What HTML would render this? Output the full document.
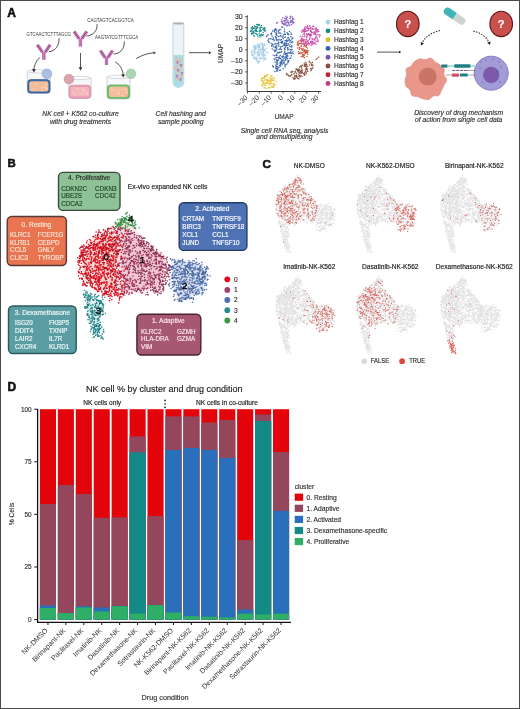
<!DOCTYPE html>
<html><head><meta charset="utf-8"><style>
html,body{margin:0;padding:0;background:#fff;}
svg{display:block;font-family:"Liberation Sans", sans-serif;will-change:transform;}
</style></head><body>
<svg width="520" height="709" viewBox="0 0 520 709" font-family="Liberation Sans, sans-serif">
<rect width="520" height="709" fill="#fff"/>
<text x="7.2" y="16.6" font-size="12.0" fill="#111" text-anchor="start" font-weight="bold" stroke="#111" stroke-width="0.55">A</text>
<text x="0" y="0" font-size="19.4" fill="#3a3a3a" textLength="178.0" lengthAdjust="spacingAndGlyphs" transform="translate(26.5 36.3) scale(0.25)">GTCAACTCTTTAGCG</text>
<text x="0" y="0" font-size="19.4" fill="#3a3a3a" textLength="186.0" lengthAdjust="spacingAndGlyphs" transform="translate(87.2 21.7) scale(0.25)">CAGTAGTCACGGTCA</text>
<text x="0" y="0" font-size="19.4" fill="#3a3a3a" textLength="172.8" lengthAdjust="spacingAndGlyphs" transform="translate(95 39.0) scale(0.25)">AAGTATCGTTTCGCA</text>
<g transform="translate(35.8 43.4) scale(1.0)" fill="none" stroke-linecap="butt" stroke-linejoin="round"><path d="M5.94 9.15L0.94 1.85M7.26 8.25L2.26 0.95M8.74 8.25L13.74 0.95M10.06 9.15L15.06 1.85M7.1 16.4V8.5M8.9 16.4V8.5" stroke="#963a88" stroke-width="1.55"/><path d="M5.94 9.15L0.94 1.85M7.26 8.25L2.26 0.95M8.74 8.25L13.74 0.95M10.06 9.15L15.06 1.85M7.1 16.4V8.5M8.9 16.4V8.5" stroke="#f0bce8" stroke-width="0.55"/></g>
<g transform="translate(72.4 30.0) scale(1.0)" fill="none" stroke-linecap="butt" stroke-linejoin="round"><path d="M5.94 9.15L0.94 1.85M7.26 8.25L2.26 0.95M8.74 8.25L13.74 0.95M10.06 9.15L15.06 1.85M7.1 16.4V8.5M8.9 16.4V8.5" stroke="#963a88" stroke-width="1.55"/><path d="M5.94 9.15L0.94 1.85M7.26 8.25L2.26 0.95M8.74 8.25L13.74 0.95M10.06 9.15L15.06 1.85M7.1 16.4V8.5M8.9 16.4V8.5" stroke="#f0bce8" stroke-width="0.55"/></g>
<g transform="translate(98.8 49.2) scale(0.96)" fill="none" stroke-linecap="butt" stroke-linejoin="round"><path d="M5.94 9.15L0.94 1.85M7.26 8.25L2.26 0.95M8.74 8.25L13.74 0.95M10.06 9.15L15.06 1.85M7.1 16.4V8.5M8.9 16.4V8.5" stroke="#963a88" stroke-width="1.55"/><path d="M5.94 9.15L0.94 1.85M7.26 8.25L2.26 0.95M8.74 8.25L13.74 0.95M10.06 9.15L15.06 1.85M7.1 16.4V8.5M8.9 16.4V8.5" stroke="#f0bce8" stroke-width="0.55"/></g>
<path d="M48.8 51.6C55 51.6 59.6 45.5 59 38.2" stroke="#2a2a2a" stroke-width="0.8" fill="none"/>
<path d="M86.4 36C93 35.5 97.6 31 97 24.2" stroke="#2a2a2a" stroke-width="0.8" fill="none"/>
<path d="M113.6 54C120 54 124.8 48.5 124.3 41.4" stroke="#2a2a2a" stroke-width="0.8" fill="none"/>
<path d="M27.3 71.4V91.3Q27.3 93.3 30.3 93.3H47.4Q50.4 93.3 50.4 91.3V71.4" fill="#f5f7f9" stroke="#c4cad1" stroke-width="0.8"/>
<ellipse cx="38.85" cy="71.4" rx="11.549999999999999" ry="1.6" fill="#fafbfc" stroke="#c4cad1" stroke-width="0.7"/>
<rect x="27.7" y="79.6" width="22.299999999999997" height="13.500000000000004" rx="3.2" fill="#3d6ba8" stroke="#2d5a96" stroke-width="0.7"/>
<rect x="29.3" y="81.3" width="19.099999999999998" height="10.100000000000003" rx="2.2" fill="#f3bd9b"/>
<circle cx="33.9" cy="89.3" r="0.75" fill="#fff" opacity="0.5"/>
<circle cx="46.0" cy="84.5" r="0.75" fill="#fff" opacity="0.5"/>
<circle cx="46.7" cy="89.0" r="0.75" fill="#fff" opacity="0.5"/>
<circle cx="35.9" cy="83.9" r="0.75" fill="#fff" opacity="0.5"/>
<circle cx="45.8" cy="88.0" r="0.75" fill="#fff" opacity="0.5"/>
<circle cx="42.0" cy="90.5" r="0.75" fill="#fff" opacity="0.5"/>
<circle cx="44.8" cy="87.1" r="0.75" fill="#fff" opacity="0.5"/>
<circle cx="41.8" cy="87.8" r="0.75" fill="#fff" opacity="0.5"/>
<circle cx="30.6" cy="83.5" r="0.75" fill="#fff" opacity="0.5"/>
<circle cx="46.9" cy="73.8" r="4.9" fill="#a9c0e0" stroke="#8ea8d0" stroke-width="0.6"/>
<path d="M68.7 78.0V96.4Q68.7 98.4 71.7 98.4H88.1Q91.1 98.4 91.1 96.4V78.0" fill="#f5f7f9" stroke="#c4cad1" stroke-width="0.8"/>
<ellipse cx="79.9" cy="78.0" rx="11.199999999999996" ry="1.6" fill="#fafbfc" stroke="#c4cad1" stroke-width="0.7"/>
<rect x="69.10000000000001" y="85.2" width="21.59999999999999" height="13.000000000000004" rx="3.2" fill="#e79db4" stroke="#d888a4" stroke-width="0.7"/>
<rect x="70.7" y="86.9" width="18.39999999999999" height="9.600000000000003" rx="2.2" fill="#f4b6b6"/>
<circle cx="73.3" cy="93.1" r="0.75" fill="#fff" opacity="0.5"/>
<circle cx="87.5" cy="93.5" r="0.75" fill="#fff" opacity="0.5"/>
<circle cx="78.0" cy="89.0" r="0.75" fill="#fff" opacity="0.5"/>
<circle cx="84.1" cy="90.3" r="0.75" fill="#fff" opacity="0.5"/>
<circle cx="82.3" cy="88.3" r="0.75" fill="#fff" opacity="0.5"/>
<circle cx="83.6" cy="90.0" r="0.75" fill="#fff" opacity="0.5"/>
<circle cx="85.8" cy="92.6" r="0.75" fill="#fff" opacity="0.5"/>
<circle cx="75.5" cy="94.8" r="0.75" fill="#fff" opacity="0.5"/>
<circle cx="81.7" cy="93.7" r="0.75" fill="#fff" opacity="0.5"/>
<circle cx="68.9" cy="79.1" r="4.9" fill="#d9a4ac" stroke="#c48c96" stroke-width="0.6"/>
<path d="M107 76.8V96.8Q107 98.8 110 98.8H127Q130 98.8 130 96.8V76.8" fill="#f5f7f9" stroke="#c4cad1" stroke-width="0.8"/>
<ellipse cx="118.5" cy="76.8" rx="11.5" ry="1.6" fill="#fafbfc" stroke="#c4cad1" stroke-width="0.7"/>
<rect x="107.4" y="84.9" width="22.2" height="13.699999999999992" rx="3.2" fill="#6fc16f" stroke="#5aae5a" stroke-width="0.7"/>
<rect x="109.0" y="86.60000000000001" width="19.0" height="10.299999999999992" rx="2.2" fill="#f3bd9b"/>
<circle cx="126.4" cy="91.9" r="0.75" fill="#fff" opacity="0.5"/>
<circle cx="122.2" cy="95.4" r="0.75" fill="#fff" opacity="0.5"/>
<circle cx="114.5" cy="90.6" r="0.75" fill="#fff" opacity="0.5"/>
<circle cx="125.2" cy="89.3" r="0.75" fill="#fff" opacity="0.5"/>
<circle cx="119.3" cy="94.1" r="0.75" fill="#fff" opacity="0.5"/>
<circle cx="122.0" cy="89.6" r="0.75" fill="#fff" opacity="0.5"/>
<circle cx="118.6" cy="91.8" r="0.75" fill="#fff" opacity="0.5"/>
<circle cx="117.7" cy="93.2" r="0.75" fill="#fff" opacity="0.5"/>
<circle cx="111.6" cy="89.5" r="0.75" fill="#fff" opacity="0.5"/>
<circle cx="131" cy="73.8" r="4.8" fill="#a9d7b2" stroke="#8cc39a" stroke-width="0.6"/>
<path d="M39.8 57.4C36.2 61 34.2 65.5 33.9 69.0" stroke="#2a2a2a" stroke-width="0.8" fill="none"/>
<path d="M33.80 72.40L32.10 69.04L35.73 69.17Z" fill="#222"/>
<path d="M80.5 53V67.5" stroke="#2a2a2a" stroke-width="0.8" fill="none"/>
<path d="M80.50 70.60L78.69 67.30L82.31 67.30Z" fill="#222"/>
<path d="M115.3 62.2C119.5 64 122.5 69 123.1 74.2" stroke="#2a2a2a" stroke-width="0.8" fill="none"/>
<path d="M123.30 77.60L121.20 74.47L124.82 74.15Z" fill="#222"/>
<text x="80.5" y="115.9" font-size="6.75" fill="#333" text-anchor="middle" font-style="italic" stroke="#333" stroke-width="0.16" >NK cell + K562 co-culture</text>
<text x="80.5" y="123.5" font-size="6.75" fill="#333" text-anchor="middle" font-style="italic" stroke="#333" stroke-width="0.16" >with drug treatments</text>
<text x="180.7" y="115.9" font-size="6.75" fill="#333" text-anchor="middle" font-style="italic" stroke="#333" stroke-width="0.16" >Cell hashing and</text>
<text x="180.7" y="123.5" font-size="6.75" fill="#333" text-anchor="middle" font-style="italic" stroke="#333" stroke-width="0.16" >sample pooling</text>
<text x="284.6" y="132.7" font-size="6.75" fill="#333" text-anchor="middle" font-style="italic" stroke="#333" stroke-width="0.16" >Single cell RNA seq, analysis</text>
<text x="284.4" y="139.4" font-size="6.75" fill="#333" text-anchor="middle" font-style="italic" stroke="#333" stroke-width="0.16" >and demultiplexing</text>
<text x="458.6" y="115.3" font-size="6.75" fill="#333" text-anchor="middle" font-style="italic" stroke="#333" stroke-width="0.16" >Discovery of drug mechanism</text>
<text x="458.6" y="122.3" font-size="6.75" fill="#333" text-anchor="middle" font-style="italic" stroke="#333" stroke-width="0.16" >of action from single cell data</text>
<path d="M136.2 58.6C141.5 55.5 147 53.4 153 52.9" stroke="#2a2a2a" stroke-width="0.8" fill="none"/>
<path d="M156.00 52.70L153.48 54.26L153.33 51.41Z" fill="#222"/>
<path d="M189 52.7H208.5" stroke="#2a2a2a" stroke-width="0.8" fill="none"/>
<path d="M211.40 52.70L208.80 54.13L208.80 51.27Z" fill="#222"/>
<path d="M377 52.1H398.5" stroke="#2a2a2a" stroke-width="0.8" fill="none"/>
<path d="M401.40 52.10L398.80 53.53L398.80 50.67Z" fill="#222"/>
<path d="M172.9 23.5V82.5A5.5 5.5 0 0 0 183.8 82.5V23.5" fill="#eef3f7" stroke="#b9cad8" stroke-width="0.8"/>
<path d="M173.4 55V82.5A4.95 4.95 0 0 0 183.3 82.5V55Z" fill="#a9dde6"/>
<ellipse cx="176" cy="58.5" rx="1.8" ry="1.6" fill="#f2b4a4" opacity="0.9"/>
<ellipse cx="180.5" cy="60" rx="2" ry="1.8" fill="#f2b4a4" opacity="0.9"/>
<ellipse cx="177.5" cy="63" rx="2.2" ry="1.7" fill="#f2b4a4" opacity="0.9"/>
<ellipse cx="181" cy="66" rx="1.8" ry="2" fill="#f2b4a4" opacity="0.9"/>
<ellipse cx="176" cy="68" rx="1.9" ry="2.2" fill="#f2b4a4" opacity="0.9"/>
<ellipse cx="179.5" cy="71" rx="2.3" ry="1.8" fill="#f2b4a4" opacity="0.9"/>
<ellipse cx="176.8" cy="75" rx="2" ry="1.8" fill="#f2b4a4" opacity="0.9"/>
<ellipse cx="181.2" cy="76" rx="1.7" ry="1.9" fill="#f2b4a4" opacity="0.9"/>
<ellipse cx="178.5" cy="79.5" rx="2.2" ry="1.6" fill="#f2b4a4" opacity="0.9"/>
<path d="M176.5 61l1 1.5l1 -1.5M177.5 62.5v1.5" stroke="#7a5ab0" stroke-width="0.7" fill="none"/>
<path d="M180 64l1 1.5l1 -1.5M181 65.5v1.5" stroke="#7a5ab0" stroke-width="0.7" fill="none"/>
<path d="M177 69l1 1.5l1 -1.5M178 70.5v1.5" stroke="#7a5ab0" stroke-width="0.7" fill="none"/>
<path d="M181 72l1 1.5l1 -1.5M182 73.5v1.5" stroke="#7a5ab0" stroke-width="0.7" fill="none"/>
<path d="M176 75l1 1.5l1 -1.5M177 76.5v1.5" stroke="#7a5ab0" stroke-width="0.7" fill="none"/>
<path d="M179.5 78l1 1.5l1 -1.5M180.5 79.5v1.5" stroke="#7a5ab0" stroke-width="0.7" fill="none"/>
<ellipse cx="178.35" cy="23.4" rx="5.6" ry="1.1" fill="#a9b3bc"/>
<path d="M247.2 15.3V91.5H321" stroke="#222" stroke-width="0.9" fill="none"/>
<path d="M245 16.65H247.2" stroke="#222" stroke-width="0.7"/>
<text x="242.6" y="19.05" font-size="6.9" fill="#333" text-anchor="end" stroke="#333" stroke-width="0.16" >30</text>
<path d="M318.55 91.5V93.6" stroke="#222" stroke-width="0.7"/>
<text x="0" y="0" font-size="6.9" fill="#333" text-anchor="end" transform="translate(318.95 98.0) rotate(-45)">30</text>
<path d="M245 27.70H247.2" stroke="#222" stroke-width="0.7"/>
<text x="242.6" y="30.10" font-size="6.9" fill="#333" text-anchor="end" stroke="#333" stroke-width="0.16" >20</text>
<path d="M306.70 91.5V93.6" stroke="#222" stroke-width="0.7"/>
<text x="0" y="0" font-size="6.9" fill="#333" text-anchor="end" transform="translate(307.10 98.0) rotate(-45)">20</text>
<path d="M245 38.75H247.2" stroke="#222" stroke-width="0.7"/>
<text x="242.6" y="41.15" font-size="6.9" fill="#333" text-anchor="end" stroke="#333" stroke-width="0.16" >10</text>
<path d="M294.85 91.5V93.6" stroke="#222" stroke-width="0.7"/>
<text x="0" y="0" font-size="6.9" fill="#333" text-anchor="end" transform="translate(295.25 98.0) rotate(-45)">10</text>
<path d="M245 49.80H247.2" stroke="#222" stroke-width="0.7"/>
<text x="242.6" y="52.20" font-size="6.9" fill="#333" text-anchor="end" stroke="#333" stroke-width="0.16" >0</text>
<path d="M283.00 91.5V93.6" stroke="#222" stroke-width="0.7"/>
<text x="0" y="0" font-size="6.9" fill="#333" text-anchor="end" transform="translate(283.40 98.0) rotate(-45)">0</text>
<path d="M245 60.85H247.2" stroke="#222" stroke-width="0.7"/>
<text x="242.6" y="63.25" font-size="6.9" fill="#333" text-anchor="end" stroke="#333" stroke-width="0.16" >&#8211;10</text>
<path d="M271.15 91.5V93.6" stroke="#222" stroke-width="0.7"/>
<text x="0" y="0" font-size="6.9" fill="#333" text-anchor="end" transform="translate(271.55 98.0) rotate(-45)">&#8211;10</text>
<path d="M245 71.90H247.2" stroke="#222" stroke-width="0.7"/>
<text x="242.6" y="74.30" font-size="6.9" fill="#333" text-anchor="end" stroke="#333" stroke-width="0.16" >&#8211;20</text>
<path d="M259.30 91.5V93.6" stroke="#222" stroke-width="0.7"/>
<text x="0" y="0" font-size="6.9" fill="#333" text-anchor="end" transform="translate(259.70 98.0) rotate(-45)">&#8211;20</text>
<path d="M245 82.95H247.2" stroke="#222" stroke-width="0.7"/>
<text x="242.6" y="85.35" font-size="6.9" fill="#333" text-anchor="end" stroke="#333" stroke-width="0.16" >&#8211;30</text>
<path d="M247.45 91.5V93.6" stroke="#222" stroke-width="0.7"/>
<text x="0" y="0" font-size="6.9" fill="#333" text-anchor="end" transform="translate(247.85 98.0) rotate(-45)">&#8211;30</text>
<text x="0" y="0" font-size="8.1" fill="#333" stroke="#333" stroke-width="0.15" text-anchor="middle" transform="translate(223.4 53.5) rotate(-90) scale(0.82 1)">UMAP</text>
<text x="0" y="0" font-size="8.1" fill="#333" stroke="#333" stroke-width="0.15" text-anchor="middle" transform="translate(284 118.7) scale(0.82 1)">UMAP</text>
<path transform="scale(0.1)" d="M2647 447h0m-3-5h0m-2 16h0m0-4h0m-14-20h0m-2 16h0m-6 2h0m-2-15h0m-12-4h0m-11 21h0m-2-6h0m-5 11h0m-5 1h0m-1-1h0m-1-12h0m-6-16h0m-3 24h0m-24-2h0m-15 8h0m3 35h0m1-34h0m3 33h0m1-17h0m5 9h0m4-20h0m3 11h0m3 15h0m1 0h0m3-23h0m1 13h0m5-6h0m16 20h0m2-28h0m1 12h0m0-11h0m1-6h0m11 11h0m3-11h0m5 25h0m8 5h0m1-3h0m6 2h0m2 0h0m1-19h0m6 10h0m1-23h0m0 17h0m4-4h0m2 15h0m0 5h0m1-34h0m3 37h0m1-7h0m21-10h0m1 3h0m14 44h0m-1 2h0m-16-5h0m-8-21h0m-11 8h0m-3 6h0m-1-13h0m0 35h0m-2-3h0m-3-33h0m0 22h0m-11-10h0m-3 18h0m-3-9h0m-12-11h0m-3 27h0m-5-38h0m-5 32h0m0-10h0m-3-7h0m-12 17h0m-1-12h0m-4-1h0m-18 7h0m-3-21h0m-3 9h0m-3-2h0m-2 11h0m-17-4h0m-5-13h0m-2 12h0m-1 22h0m2 4h0m4-3h0m3 13h0m2-12h0m1 1h0m2 7h0m9 26h0m4-8h0m1-1h0m0-26h0m14 36h0m9 0h0m6-19h0m8-12h0m10 10h0m5-10h0m5 23h0m18-30h0m5 14h0m6 8h0m0 6h0m4-21h0m8-1h0m8 5h0m3 20h0m2-16h0m3 37h0m-11 0h0m-9-12h0m-1 18h0m-18-14h0m-5-3h0m-10-1h0m-5 10h0m-1-8h0m-2 34h0m-5-5h0m-1 2h0m-6 0h0m-1 4h0m-6-5h0m-1-23h0m-12 17h0m-1-18h0m-15-2h0m-9-2h0m40 47h0m3-8h0" stroke="#9fcbe6" stroke-width="14.5" stroke-linecap="round" fill="none" opacity="1" />
<path transform="scale(0.1)" d="M2545 260h0m22-15h0m10-1h0m3 6h0m10-6h0m3 11h0m1-8h0m19 9h0m3-2h0m34 41h0m-1-7h0m-3-12h0m-2 3h0m-2-2h0m-2 5h0m-8 9h0m-2-2h0m-12-14h0m-12-3h0m-3 21h0m-3-4h0m-2-6h0m-19-7h0m-8-11h0m-2 20h0m-1-15h0m-2 1h0m-10-5h0m0 24h0m-4-20h0m-7 11h0m-11 2h0m-2 0h0m-4-5h0m-1-10h0m-4 26h0m-2-12h0m-6-4h0m-5 3h0m-6 34h0m4-8h0m6 31h0m2-30h0m1-1h0m2 33h0m1-5h0m2-4h0m0-9h0m4 13h0m4-19h0m6 13h0m3-17h0m0 13h0m12-23h0m2 33h0m6-21h0m3-6h0m1 6h0m1-14h0m11 16h0m15 20h0m3-30h0m2 12h0m6-10h0m8 3h0m1 1h0m1-7h0m21 20h0m5-25h0m8 4h0m3 6h0m5 0h0m-23 34h0m0 11h0m-3-3h0m-5-1h0m-1-5h0m-7-5h0m-2 4h0m-3 21h0m-1-13h0m-11-1h0m-3 0h0m0 19h0m-16-5h0m-4-18h0m-5 0h0m-2-8h0m-25 22h0m-4-10h0" stroke="#1a8d87" stroke-width="14.5" stroke-linecap="round" fill="none" opacity="1" />
<path transform="scale(0.1)" d="M2741 775h0m-19-12h0m-7-3h0m-12 2h0m-26-16h0m-8-1h0m-2 15h0m-2 8h0m-6-2h0m-3-6h0m-3-1h0m-6 11h0m-2 0h0m-1-13h0m0 19h0m-14 0h0m-16 29h0m1-21h0m0 7h0m7 15h0m2 11h0m0-33h0m11-2h0m3 24h0m10-24h0m1 18h0m11-5h0m1 16h0m11 1h0m3-13h0m2-1h0m1-3h0m1-1h0m2 12h0m7 1h0m1 1h0m3-2h0m1 9h0m3-30h0m11 15h0m1 13h0m3-30h0m2 19h0m0-10h0m2 15h0m5-22h0m4 1h0m1 16h0m3 4h0m12-18h0m2 16h0m1-16h0m19 26h0m-9 27h0m-6 2h0m-7 11h0m-6-20h0m-5 12h0m-17-5h0m-1-9h0m-3-8h0m-3 6h0m-8 19h0m-2-13h0m-13 0h0m-1-3h0m-1 2h0m-3-11h0m-8 3h0m-10 9h0m0 18h0m0-23h0m-9 20h0m-6-3h0m-1-19h0m-2 14h0m-5-10h0m-2-12h0m-11 26h0m-1-5h0m-2 8h0m8 13h0m15 12h0m7 6h0m5 0h0m4 3h0m25-1h0m2-8h0m2 4h0m13-4h0m3-1h0m13-6h0m11 5h0m4-10h0m7 7h0" stroke="#e8c43a" stroke-width="14.5" stroke-linecap="round" fill="none" opacity="1" />
<path transform="scale(0.1)" d="M2845 290h0m-19-18h0m-9-3h0m-9 27h0m-14 3h0m0-2h0m-26 2h0m-11-12h0m-4 6h0m-8 5h0m-33 36h0m1 1h0m3-6h0m10-19h0m16-3h0m0 10h0m2 1h0m15 9h0m1-24h0m4 17h0m2 15h0m17-17h0m4-10h0m1 21h0m7 1h0m12 3h0m36-22h0m4 9h0m23 6h0m2 4h0m4 4h0m9 6h0m10-25h0m15 15h0m19 50h0m-8-1h0m-7-36h0m-6 22h0m-20-21h0m-2 34h0m-7-34h0m-4 35h0m-21-34h0m0 25h0m-6 2h0m-2-29h0m-10 3h0m-4 15h0m-8 11h0m-5-11h0m-15-7h0m-4 10h0m-17 0h0m-13-8h0m-5-8h0m0 1h0m-2 27h0m-4-32h0m-2 24h0m-1-1h0m-25 10h0m-9-17h0m-10-15h0m-1-5h0m-30 8h0m-10 8h0m-5 9h0m14 41h0m6-10h0m0 21h0m4-30h0m18 1h0m3-2h0m12 10h0m11-5h0m5 6h0m3 10h0m16-26h0m6 16h0m0 5h0m2-6h0m0-15h0m1 18h0m14 3h0m1-7h0m1 24h0m15-21h0m4 5h0m12-8h0m2 19h0m11-3h0m7-27h0m16 22h0m4 0h0m10 9h0m1-9h0m1-3h0m1-3h0m4 1h0m2 9h0m10-4h0m6-15h0m7 3h0m3 14h0m2 0h0m7-1h0m9-16h0m6-10h0m0 4h0m3 32h0m-5 9h0m-5 31h0m-2-34h0m-12 20h0m-6-22h0m-13 15h0m-1 3h0m-3 13h0m-10 1h0m-3-20h0m-3 3h0m-3 24h0m-1-10h0m-1-1h0m-2 7h0m-6-23h0m-1 23h0m-2-1h0m0-28h0m-2 19h0m-6-7h0m-5 12h0m-7-27h0m-8 8h0m-8-7h0m-12 1h0m-11 21h0m-5-12h0m-14 1h0m-1 16h0m-16-15h0m-2-3h0m-11 14h0m-14-6h0m-1 0h0m-5 13h0m-8-20h0m-18-11h0m24 39h0m5 26h0m11-21h0m16 3h0m0 28h0m4-26h0m2 5h0m1-17h0m8 14h0m0 4h0m1 12h0m2-22h0m2 23h0m19-29h0m4 32h0m9-4h0m3-9h0m2-12h0m6-4h0m3 28h0m13-32h0m0 1h0m14 18h0m6 12h0m2-1h0m5-18h0m21 2h0m0 9h0m2-7h0m2 3h0m4 15h0m11-35h0m6 33h0m2 4h0m4-30h0m4 28h0m9-26h0m1 24h0m11 43h0m-2-20h0m-11 11h0m-4-27h0m-1 34h0m-9-18h0m-4 15h0m-10-4h0m-7 0h0m-7 2h0m-2-29h0m-7 36h0m-11-4h0m-6-1h0m-3-20h0m-3 7h0m-8 21h0m-20-24h0m-4 1h0m-3 5h0m-14 6h0m-3-7h0m-5 5h0m-10-1h0m-1 3h0m-9 11h0m-6-29h0m-6-1h0m-10 5h0m-8-13h0m-6 50h0m15 6h0m11 23h0m4-28h0m7 23h0m1-17h0m14 19h0m9-5h0m1-2h0m9-16h0m15 12h0m5 9h0m1-14h0m0 7h0m8-6h0m9 11h0m12-30h0m2 18h0m4 13h0m6 2h0m1-14h0m1-18h0m0 21h0m0 12h0m5-27h0m7 9h0m28 18h0m6-20h0m-14 29h0m-10 18h0m-3 14h0m-9-8h0m0-25h0m-8 3h0m-11 6h0m-1-3h0m-3 12h0m-8-22h0m-5 35h0m-2-9h0m-6-18h0m-8 14h0m-5 14h0m-3-7h0m-6-16h0m-6-11h0m-7-2h0m-7 5h0m-4 15h0m-6 1h0m-4 5h0m-3 5h0m-5-14h0m-3 10h0m-17-14h0m-7-5h0m-17 69h0m26-38h0m5 31h0m7-23h0m6 15h0m1 0h0m1 4h0m7-17h0m17 25h0m6-29h0m0 8h0m1-10h0m1 12h0m1 11h0m2 12h0m1-39h0m8 10h0m3 8h0m4 9h0m10-18h0m9 4h0m0-11h0m8 25h0m4 10h0m9-15h0m6-1h0m10-13h0m-28 39h0m-19 17h0m-25 16h0m-6-40h0m-10 16h0m-9-7h0m-1 21h0m-7-7h0m0 1h0m-3 1h0m-2 10h0m0-31h0m-1-3h0m-7 22h0m-3-11h0m-22-5h0m0 3h0m-2 0h0m16 44h0m17-4h0m4-6h0m8 7h0m18-9h0" stroke="#3d67b0" stroke-width="14.5" stroke-linecap="round" fill="none" opacity="1" />
<path transform="scale(0.1)" d="M2827 177h0m32-14h0m8 16h0m5-5h0m1-1h0m30-8h0m3-2h0m2 15h0m17-8h0m14 22h0m-8 26h0m-4-34h0m0 3h0m-2 23h0m-2-9h0m-4 8h0m-9-4h0m-1 1h0m-3 6h0m-6 7h0m-1-34h0m-19 16h0m-5 13h0m-10-19h0m-3 8h0m-6-19h0m-5 20h0m-4 12h0m-1-35h0m-1 25h0m0-2h0m-6 4h0m-14 12h0m-6-23h0m-4 18h0m-50 17h0m10-8h0m46 6h0m3 5h0m3-6h0m9 11h0m1 4h0m2-8h0m5 12h0m9-12h0m0-10h0m3 18h0m6 8h0m5-25h0m5 30h0m4-6h0m7-26h0m0 5h0m1-5h0m3 26h0m4-11h0m9 15h0m9-29h0m7 20h0m7-23h0m7 13h0m6-11h0" stroke="#8a63be" stroke-width="14.5" stroke-linecap="round" fill="none" opacity="1" />
<path transform="scale(0.1)" d="M3188 570h0m-15 12h0m-11 12h0m-68 17h0m-85 46h0m14-4h0m18 6h0m2-11h0m0-15h0m5 14h0m5 3h0m3-8h0m3-20h0m4 38h0m0-20h0m1 3h0m5 7h0m21-29h0m7 29h0m6-23h0m11 12h0m3 15h0m1-3h0m3 2h0m1-9h0m2-19h0m6 35h0m-2 20h0m-7 6h0m-2-5h0m-5 17h0m-9-14h0m-27-20h0m-5 34h0m-3-14h0m0 10h0m-6-16h0m-1 17h0m-1-9h0m0 3h0m-4-2h0m-3 12h0m-4-34h0m-34 3h0m-1 19h0m-1-16h0m-15-4h0m-1 28h0m-2-22h0m-13 19h0m-10 1h0m-12 2h0m-1-7h0m-96 47h0m43-14h0m3 2h0m2-6h0m4-1h0m4 3h0m6-5h0m12 24h0m2 1h0m9-23h0m1 9h0m2-13h0m12 20h0m9-29h0m3 4h0m4 5h0m0 6h0m5-18h0m5 6h0m1 18h0m4 7h0m3-25h0m4 8h0m5 19h0m4-18h0m0 15h0m2 0h0m0-7h0m2-15h0m1 11h0m6 5h0m1-3h0m2-18h0m7 31h0m12 2h0m4-12h0m4-6h0m9 20h0m3-19h0m12-7h0m31-4h0m-61 44h0m0-4h0m-6 1h0m-19 17h0m-11-11h0m-8 11h0m-4 5h0m-3-16h0m-2 6h0m-6-19h0m-7 19h0m-5 19h0m-7-4h0m-1-25h0m-2 11h0m-5 6h0m0-11h0m-1-1h0m-11 0h0m-2 8h0m-18 11h0m-11-34h0m-1 5h0m-3 7h0m-8 7h0m-10 1h0m-11-8h0m0 4h0m-11-13h0m-1 2h0m-4 2h0m67 42h0m5-6h0m1-1h0m3 6h0m6-1h0m2-7h0m28 4h0m8 3h0" stroke="#8c5040" stroke-width="14.5" stroke-linecap="round" fill="none" opacity="1" />
<path transform="scale(0.1)" d="M2987 412h0m14-6h0m11 10h0m1-11h0m2 0h0m5-7h0m1 11h0m10-6h0m3 4h0m14 4h0m23 32h0m-7 11h0m-2-8h0m-4 13h0m0-35h0m-3 34h0m-2 1h0m-6-23h0m-3 15h0m-5-15h0m-1-5h0m-11 10h0m-7-8h0m-7 3h0m-2 18h0m-8-22h0m-8 6h0m-2 2h0m-10-4h0m-1 17h0m-3-26h0m-4 22h0m0-25h0m-1-2h0m-1 22h0m4 35h0m16 13h0m0-19h0m6 6h0m13-14h0m1 19h0m7 15h0m2-1h0m8-14h0m2 9h0m7-29h0m7 34h0m5 1h0m12-30h0m10 10h0m7 26h0m-2 21h0m-3-9h0m-7 7h0m-1-16h0m-4 6h0m-6-12h0m0 33h0m-1-5h0m-3-8h0m-2 11h0m-3-19h0m-3-4h0m-1-8h0m-7 17h0m-10-14h0m-5 21h0m-3 5h0m-11-10h0m-3 15h0m-8-7h0m-10-12h0m-1 20h0m26 29h0m10-3h0m5-11h0m2 6h0m0-16h0m0 7h0m6 19h0m6-22h0m3 29h0m0-22h0m25 12h0m8-23h0" stroke="#c9573f" stroke-width="14.5" stroke-linecap="round" fill="none" opacity="1" />
<path transform="scale(0.1)" d="M3075 257h0m24-1h0m82 40h0m-7 3h0m-9-19h0m-4 11h0m-6 6h0m-2-16h0m-12 10h0m-4-29h0m-5 28h0m-4-27h0m-6 20h0m-1 6h0m-13-15h0m-2 8h0m0 18h0m-8-38h0m-5 23h0m-7 6h0m-1 2h0m-4-14h0m-1-13h0m-3 19h0m-7-4h0m-3-10h0m-11-1h0m-1 22h0m-4 5h0m-1-27h0m-3 15h0m-5 7h0m-5 7h0m-9-2h0m-11 15h0m2 10h0m11-20h0m3 12h0m7 19h0m3-20h0m1 25h0m4-32h0m1 14h0m2-5h0m9-2h0m3-1h0m3 26h0m8-31h0m11-7h0m3 38h0m5 1h0m2 1h0m8-29h0m4-9h0m1 16h0m1-3h0m1 25h0m6-29h0m0 15h0m6-2h0m16 3h0m2-1h0m3-8h0m8 15h0m3-12h0m3 18h0m3-17h0m2-19h0m1 5h0m0 4h0m3-5h0m10 9h0m2 3h0m3-4h0m7-2h0m13 43h0m-1-4h0m-5-4h0m-1 19h0m-16-19h0m-14 3h0m-4 11h0m-1 11h0m0-2h0m-12-28h0m-12-2h0m-21 14h0m-7-10h0m-1 14h0m-4 1h0m-2 18h0m-2-24h0m-10-7h0m-11-4h0m-5 14h0m-3-9h0m-1 19h0m-1-24h0m-1 29h0m-17-6h0m-1-17h0m-7 17h0m-12-19h0m-5 21h0m-21-5h0m6 37h0m0-10h0m6 24h0m1-31h0m9 19h0m2-8h0m6 19h0m0-21h0m15 6h0m6 21h0m3 0h0m4-19h0m5-8h0m7 20h0m1 5h0m6 0h0m2-14h0m15-11h0m1-6h0m9 31h0m8 3h0m3-9h0m2-30h0m3 12h0m3 23h0m3-4h0m2-22h0m13 5h0m6 9h0m2-22h0m5 5h0m9 28h0m6-35h0m6 24h0m0-6h0m3 19h0m-20 26h0m-12-18h0m-2 9h0m-11 4h0m-5-13h0m-7 10h0m-4 14h0m-9-13h0m0 15h0m-4-27h0m0-2h0m-11 14h0m-7 14h0m-3-21h0m-5-8h0m-5 18h0m-3 4h0m-10-21h0m-5 13h0m-5 0h0m-11-1h0m0 9h0m-4-10h0m-3 2h0" stroke="#cc4fad" stroke-width="14.5" stroke-linecap="round" fill="none" opacity="1" />
<circle cx="328" cy="22.10" r="2.45" fill="#a8d5e6"/>
<text x="334" y="24.30" font-size="6.5" fill="#333" text-anchor="start" stroke="#333" stroke-width="0.16" >Hashtag 1</text>
<circle cx="328" cy="30.87" r="2.45" fill="#1a8a80"/>
<text x="334" y="33.07" font-size="6.5" fill="#333" text-anchor="start" stroke="#333" stroke-width="0.16" >Hashtag 2</text>
<circle cx="328" cy="39.64" r="2.45" fill="#e2c020"/>
<text x="334" y="41.84" font-size="6.5" fill="#333" text-anchor="start" stroke="#333" stroke-width="0.16" >Hashtag 3</text>
<circle cx="328" cy="48.41" r="2.45" fill="#3060b0"/>
<text x="334" y="50.61" font-size="6.5" fill="#333" text-anchor="start" stroke="#333" stroke-width="0.16" >Hashtag 4</text>
<circle cx="328" cy="57.18" r="2.45" fill="#7555b5"/>
<text x="334" y="59.38" font-size="6.5" fill="#333" text-anchor="start" stroke="#333" stroke-width="0.16" >Hashtag 5</text>
<circle cx="328" cy="65.95" r="2.45" fill="#8a4a40"/>
<text x="334" y="68.15" font-size="6.5" fill="#333" text-anchor="start" stroke="#333" stroke-width="0.16" >Hashtag 6</text>
<circle cx="328" cy="74.72" r="2.45" fill="#c02030"/>
<text x="334" y="76.92" font-size="6.5" fill="#333" text-anchor="start" stroke="#333" stroke-width="0.16" >Hashtag 7</text>
<circle cx="328" cy="83.49" r="2.45" fill="#c43a8a"/>
<text x="334" y="85.69" font-size="6.5" fill="#333" text-anchor="start" stroke="#333" stroke-width="0.16" >Hashtag 8</text>
<ellipse cx="407.8" cy="23.9" rx="11.3" ry="12.7" fill="#c9514d" stroke="#5c1414" stroke-width="1.1"/>
<text x="407.8" y="28.0" font-size="11" fill="#ffffff" text-anchor="middle" font-weight="bold" stroke="#ffffff" stroke-width="0.16" >?</text>
<ellipse cx="501.2" cy="23.9" rx="11.3" ry="12.7" fill="#c9514d" stroke="#5c1414" stroke-width="1.1"/>
<text x="501.2" y="28.0" font-size="11" fill="#ffffff" text-anchor="middle" font-weight="bold" stroke="#ffffff" stroke-width="0.16" >?</text>
<g transform="translate(454.6 16.1) rotate(34)"><rect x="-12.2" y="-3.8" width="24.4" height="7.6" rx="3.8" fill="#cdd3d3"/><path d="M0 -3.8H-8.4A3.8 3.8 0 0 0 -8.4 3.8H0Z" fill="#3fb6b8"/></g>
<path d="M440 30.5C433 32 426 36 422.5 42" stroke="#333" stroke-width="1.1" fill="none" stroke-dasharray="1.5 1.3"/>
<path d="M421.00 45.60L420.76 41.96L423.95 43.44Z" fill="#222"/>
<path d="M473.3 31.1C480 32.5 486 36.5 488.6 41.5" stroke="#333" stroke-width="1.1" fill="none" stroke-dasharray="1.5 1.3"/>
<path d="M490.00 45.00L487.17 42.69L490.43 41.37Z" fill="#222"/>
<path d="M446.5 78.8L446.6 80.7L445.8 82.4L444.7 84.0L443.9 85.5L443.3 87.1L442.5 88.7L441.6 90.1L440.9 91.8L440.2 93.6L439.1 95.2L437.3 95.9L435.2 95.8L433.4 95.9L432.0 96.9L430.6 98.4L429.1 99.5L427.2 99.7L425.4 99.4L423.6 98.9L421.9 98.5L420.3 97.9L418.7 97.1L417.1 96.5L415.2 96.4L413.2 96.2L411.6 95.2L410.9 93.3L410.5 91.3L409.9 89.7L408.5 88.6L406.9 87.4L405.8 85.9L405.4 84.2L405.1 82.4L405.0 80.6L405.2 78.8L405.9 77.1L406.5 75.5L406.6 73.8L406.1 71.8L405.9 69.7L406.9 68.1L408.8 67.2L410.6 66.4L411.8 65.2L412.7 63.7L413.7 62.2L415.1 61.0L416.7 60.1L418.3 59.3L420.0 58.7L421.9 58.9L423.7 59.6L425.4 59.8L427.1 59.2L429.0 58.2L431.0 58.0L432.6 59.0L433.9 60.6L435.1 62.0L436.6 62.8L438.2 63.6L439.6 64.6L440.9 65.8L442.4 66.9L443.7 68.2L444.3 70.0L444.2 72.0L443.8 73.9L444.1 75.5L445.3 77.1Z" fill="#e9978b" stroke="#e08a7e" stroke-width="0.6"/>
<circle cx="427.7" cy="76.6" r="9" fill="#c97465"/>
<circle cx="491.2" cy="73.2" r="17" fill="#a19cd6" stroke="#8580c0" stroke-width="1"/>
<circle cx="491.2" cy="75" r="8.2" fill="#7c5aa9"/>
<circle cx="481" cy="62" r="0.55" fill="#5a4a90"/>
<circle cx="486" cy="60" r="0.55" fill="#5a4a90"/>
<circle cx="493" cy="59" r="0.55" fill="#5a4a90"/>
<circle cx="499" cy="62" r="0.55" fill="#5a4a90"/>
<circle cx="480" cy="68" r="0.55" fill="#5a4a90"/>
<circle cx="501" cy="67" r="0.55" fill="#5a4a90"/>
<circle cx="483" cy="82" r="0.55" fill="#5a4a90"/>
<circle cx="500" cy="82" r="0.55" fill="#5a4a90"/>
<circle cx="498" cy="71" r="0.55" fill="#5a4a90"/>
<rect x="441.3" y="64.5" width="6.2" height="3.1" fill="#1f7f85"/>
<rect x="447.5" y="65.4" width="6.7" height="1.3" fill="#7fd0d0"/>
<rect x="454.2" y="64.3" width="16.4" height="3.4" rx="0.6" fill="#1f7f85"/>
<rect x="470.6" y="65.3" width="4.8" height="1.4" fill="#8fd8d8"/>
<path d="M452.3 70.5H468.7" stroke="#6a5a8a" stroke-width="1.2" stroke-dasharray="3 0.8"/>
<path d="M468.7 70.5H475.4" stroke="#444" stroke-width="0.5"/>
<path d="M445.6 75H475.4" stroke="#555" stroke-width="0.5"/>
<rect x="451.8" y="73.4" width="7.2" height="3.3" rx="0.6" fill="#d0506e"/>
<rect x="460" y="73.5" width="7.7" height="3.1" rx="0.6" fill="#1f7f85"/>
<defs><filter id="bl" x="-20%" y="-20%" width="140%" height="140%"><feGaussianBlur stdDeviation="1.8"/></filter></defs>
<g filter="url(#bl)"><polygon points="85.6,248.2 91.2,244.2 96.8,238.3 104.2,233.1 110.2,230.7 113.6,225.7 118.6,221.5 123.6,220.2 130.4,221.5 135.4,226.5 137.9,234.1 142.1,241.2 152.2,249.2 162.3,256.8 163.5,264.3 160.3,277.9 156.2,287.5 145.5,289.0 129.9,288.3 121.0,294.1 110.6,292.9 97.6,283.8 88.6,281.3 84.2,272.7 83.5,263.5" fill="#f4c2cc" opacity="0.55"/><polygon points="119.1,232.8 123.4,232.8 131.1,234.6 144.9,241.9 155.2,250.0 165.5,257.8 166.8,265.5 163.4,279.5 159.2,289.3 148.3,290.8 132.4,290.1 123.2,296.1 123.4,286.2 121.6,273.3 120.8,260.4 121.6,247.5 123.4,236.3" fill="#eebdd0" opacity="0.75"/><polygon points="88.4,245.4 93.8,239.6 101.1,234.5 108.6,232.2 113.5,233.9 117.6,237.2 116.0,247.8 115.2,260.1 116.0,272.4 117.6,284.7 117.5,294.2 107.4,292.9 94.7,284.1 85.9,281.6 81.5,273.2 80.9,264.2 82.4,253.6" fill="#f9c6c0" opacity="0.55"/><polygon points="172.6,260.1 180.7,260.1 194.1,263.4 206.2,269.5 207.5,274.8 203.5,290.9 191.4,296.3 180.7,300.3 174.0,292.3 172.6,278.9" fill="#c9d5ee" opacity="0.75"/><polygon points="86.6,297.8 95.5,299.3 102.8,302.1 101.7,307.7 102.8,312.6 99.7,319.3 102.8,326.9 101.7,332.6 93.1,330.1 89.9,319.3 87.8,307.7" fill="#c4e0e2" opacity="0.5"/></g>
<path transform="scale(0.1)" d="M1280 2299h0m-25-26h0m-1 19h0m-28-6h0m-16 3h0m-25-17h0m-1 21h0m0-5h0m-7 2h0m-28-7h0m-40 4h0m-12-1h0m-16-2h0m-13 35h0m63 13h0m25-27h0m2 26h0m18-19h0m29-7h0m8 26h0m3 1h0m2 4h0m30 1h0m6-23h0m23 3h0m6 22h0m3-23h0m3 21h0m8 2h0m13 1h0m1-9h0m6 3h0m120 45h0m-22-3h0m-1 4h0m-6-17h0m-14 6h0m-3-14h0m-22 2h0m-5 18h0m-20-1h0m-47 3h0m-45-10h0m-23-17h0m-3 26h0m-47 0h0m-8-21h0m-28 18h0m0 0h0m-52 1h0m-47 15h0m87 25h0m19-6h0m25-20h0m34 16h0m6-1h0m12 10h0m4-32h0m21 22h0m1-3h0m12 13h0m3-9h0m0-14h0m17 7h0m0 8h0m13-5h0m8 16h0m9-18h0m6-13h0m7 18h0m52 1h0m4-14h0m3 14h0m17 3h0m11 4h0m1-9h0m3 3h0m15 14h0m31-2h0m47 42h0m-22-21h0m-2 4h0m-19-19h0m-3 13h0m-7 19h0m-3 1h0m-7 2h0m-5-18h0m-9-16h0m-13 34h0m-2-35h0m-7 19h0m-3-14h0m-1 5h0m-8 3h0m-5 8h0m-1 15h0m-8-38h0m-4 29h0m-18-13h0m-1 21h0m-33-2h0m-1-4h0m-21-27h0m-5 11h0m-10-15h0m-13 36h0m-47-7h0m-26-29h0m-22 35h0m-5 2h0m-9-2h0m-21-29h0m-4 10h0m0 15h0m-31 3h0m-45-34h0m54 45h0m99 9h0m5-12h0m24 23h0m13 7h0m5-14h0m1-2h0m2-3h0m10-13h0m10 6h0m4-3h0m6 35h0m25-15h0m81-16h0m12-7h0m13 6h0m87 30h0m0-28h0m5 24h0m2-13h0m2-18h0m80 65h0m-35 6h0m-9 3h0m-2-23h0m-7 20h0m-9 1h0m-13-31h0m-6 31h0m-26-21h0m-13 18h0m-43-8h0m-3-3h0m-8-14h0m-7 0h0m-26 8h0m-1 22h0m-10-7h0m-19-6h0m-4 14h0m-47-28h0m-16 11h0m-7 1h0m-1-20h0m-8 34h0m-10-15h0m-24 15h0m-11-22h0m-54-12h0m-18-1h0m-8 19h0m-5 0h0m-2-3h0m-2-8h0m-27-5h0m-1-2h0m11 60h0m112 12h0m39-31h0m0 12h0m7 24h0m17-8h0m6-5h0m16-11h0m19 4h0m6 13h0m20-7h0m4-12h0m6 13h0m1-5h0m22-3h0m3-2h0m16-9h0m26-1h0m9 14h0m4-10h0m12 11h0m2-16h0m6 30h0m17 2h0m4-29h0m6 14h0m23-18h0m6 19h0m3 0h0m5-14h0m4 22h0m3-28h0m6 21h0m35-15h0m16 19h0m11 1h0m33 30h0m-4-11h0m-40 32h0m-10-33h0m-4 28h0m-19-2h0m-23-3h0m-2-15h0m-2-5h0m-10 6h0m-11 16h0m-25-14h0m-16 16h0m-11-29h0m-12 29h0m-8-10h0m-29 4h0m0 3h0m-7-12h0m-27-11h0m0 18h0m-38-7h0m-14 16h0m-11-25h0m-4 5h0m-25 17h0m-5-28h0m-14 9h0m-2-6h0m-13 3h0m-9-4h0m-2 25h0m-36-30h0m-3 37h0m-6-34h0m-2 8h0m-59 9h0m-72 20h0m99 11h0m11 1h0m21-4h0m7 4h0m11-8h0m0 7h0m49 21h0m8-11h0m8-9h0m0 1h0m1 25h0m32-29h0m4 14h0m20-4h0m4-4h0m1-2h0m6-8h0m1 1h0m12 21h0m0-26h0m22 35h0m2-25h0m4-9h0m2 24h0m1 2h0m24-16h0m3 18h0m6-13h0m9 12h0m3-6h0m10 13h0m11-24h0m6 18h0m11-22h0m5 16h0m49-9h0m7 5h0m28-10h0m4-7h0m0 15h0m28 1h0m6 3h0m33 8h0m1-7h0m30 12h0m1-5h0m8 9h0m15 10h0m-25 9h0m-3 3h0m-2 7h0m-1-1h0m-12 13h0m-16-17h0m-16-2h0m-13-4h0m-6-10h0m-4 10h0m-4-9h0m0 6h0m-1-11h0m-4 30h0m-1-17h0m-8 20h0m-4-31h0m-1 8h0m-22-6h0m-32 1h0m-24 21h0m-8-21h0m-15 28h0m-30-35h0m-7 6h0m-15-5h0m-14 26h0m-10-25h0m-40-2h0m-30 11h0m-8-8h0m-44 13h0m-11-8h0m-5 26h0m-3-19h0m-2 3h0m-2 7h0m-10-2h0m-17-16h0m-1-5h0m-22 6h0m-35 35h0m12 24h0m11-13h0m31-6h0m45 23h0m2-19h0m0 19h0m74-1h0m1-1h0m17-23h0m6 2h0m17 19h0m10-28h0m12 32h0m1-24h0m13 1h0m48 25h0m4-14h0m3 7h0m4-7h0m9 9h0m30-5h0m58 15h0m13-4h0m19-21h0m4 6h0m20-1h0m20-1h0m1 2h0m12-16h0m15 0h0m-7 65h0m-6-26h0m-4 18h0m-15 6h0m-15-16h0m-1-10h0m-17 34h0m-10-29h0m-8 23h0m-25-29h0m-4 21h0m-8-16h0m-14 6h0m-4 6h0m-1 20h0m-37 1h0m-4-20h0m-9 13h0m-8-27h0m-3 23h0m-2-7h0m-15 16h0m-3-24h0m-33-4h0m-3-6h0m-17 20h0m-8-2h0m-5 4h0m-2 16h0m-21-16h0m-59-3h0m-54-7h0m-38 22h0m-3-24h0m-6 11h0m-4-13h0m-13-6h0m0-2h0m-11 14h0m-38 6h0m16 50h0m40-3h0m36-20h0m6 23h0m38-23h0m3 23h0m4-14h0m3-15h0m40 12h0m3 10h0m27-10h0m26 1h0m2 13h0m17-3h0m5-1h0m60-6h0m14-11h0m1-1h0m17 27h0m4-24h0m9-2h0m53 4h0m8 9h0m1-5h0m8 10h0m1 13h0m18-3h0m29-30h0m3 18h0m18 6h0m23-12h0m-11 50h0m-23-18h0m-3-1h0m-1 11h0m-55-13h0m-4 1h0m-3 16h0m-3-16h0m0-2h0m-52 17h0m-18-9h0m-3 14h0m-9 2h0m-3-7h0m-4 11h0m-1-20h0m-26 9h0m-3-14h0m-13 22h0m-5-8h0m-50-14h0m-3-5h0m-57 19h0m-5 16h0m-8-1h0m-10-32h0m-8 12h0m-21-7h0m-12 25h0m-8-14h0m-8 0h0m-8-1h0m-7-16h0m-88 13h0m-54-5h0m77 53h0m12 6h0m26-30h0m2 25h0m19 7h0m13-27h0m27 4h0m10-1h0m35 24h0m6-32h0m4 38h0m8-37h0m5 25h0m22 1h0m5-9h0m8 7h0m11 9h0m22-15h0m10 4h0m8-21h0m7 20h0m19 3h0m41-15h0m37 11h0m8-10h0m3 0h0m2 10h0m31 16h0m1-34h0m10 13h0m2 16h0m4-23h0m22 23h0m6-33h0m0 23h0m7 6h0m-29 29h0m-19 12h0m-6-29h0m-10 18h0m-9-4h0m-11 1h0m0-9h0m-6 22h0m-12-14h0m-64 9h0m-48 0h0m-6 7h0m-13-13h0m-6-14h0m-28 0h0m-2 2h0m-18 0h0m-32 17h0m-24 5h0m-28-23h0m-29 30h0m-17-1h0m-1-30h0m-60 19h0m-2-18h0m37 64h0m8-4h0m21-22h0m10-1h0m3 11h0m49-12h0m172 6h0m18-1h0m5 0h0" stroke="#a03c5c" stroke-width="16.0" stroke-linecap="round" fill="none" opacity="1" />
<path transform="scale(0.1)" d="M1218 2281h0m-19 11h0m-9 1h0m-74 44h0m0-11h0m146-23h0m21 10h0m15 27h0m13-31h0m15 23h0m16-6h0m24 52h0m-21-29h0m-57 20h0m-14-23h0m-13 24h0m-68-23h0m-157 43h0m110 15h0m48-3h0m55 17h0m136-24h0m42-9h0m12 23h0m10-26h0m31 42h0m-40 10h0m-2 1h0m-9 9h0m-17-11h0m-7 18h0m-7-20h0m-58 26h0m-27-33h0m-49 12h0m-26-2h0m-176 10h0m206 33h0m6 2h0m8-2h0m9-15h0m1-2h0m57 14h0m92 9h0m4 1h0m24-1h0m13-19h0m10 22h0m13 9h0m8-30h0m4 18h0m50 11h0m2 32h0m-16-3h0m-16 6h0m-20-24h0m-11-2h0m-24 7h0m-15 14h0m-14-13h0m-51 7h0m-45-7h0m-62-3h0m-14-9h0m-32 30h0m-14 8h0m-39-30h0m-154 60h0m172-3h0m70-19h0m35 19h0m70 14h0m45-1h0m34-33h0m34 34h0m86-20h0m1-17h0m11 17h0m13 6h0m11 10h0m11-12h0m36 10h0m-33 12h0m-46 33h0m-40-21h0m-80 19h0m-30-6h0m-62-9h0m-22-8h0m-20 27h0m-15-13h0m-4 4h0m-4-6h0m-68-18h0m-16 23h0m-76-10h0m-34 51h0m60 8h0m9-2h0m39-20h0m29-11h0m47 30h0m1-30h0m23 33h0m65-27h0m80 5h0m20 19h0m5-10h0m19 9h0m7-20h0m37-9h0m3 15h0m69 3h0m14 7h0m3-1h0m2-10h0m20-19h0m14 30h0m6 8h0m8 12h0m-1 0h0m-28 18h0m-8-20h0m-52-5h0m-11 34h0m-31-16h0m-11 8h0m-14-25h0m-79 1h0m-48 17h0m-33-12h0m-30 15h0m-13 12h0m-2-30h0m-6 22h0m-38 4h0m-166-5h0m50 49h0m27-3h0m82-13h0m41 2h0m22-1h0m2-17h0m27 25h0m1 5h0m14-11h0m14-17h0m3 22h0m25-29h0m0 4h0m13 10h0m4 1h0m13-5h0m1-3h0m120-1h0m17-5h0m3-2h0m52 28h0m11 8h0m22-33h0m-48 62h0m-26 7h0m-23-16h0m-2 24h0m-39-5h0m-3-20h0m-1 8h0m-9-16h0m-97 28h0m-37-33h0m-164 20h0m-1 20h0m18 18h0m9-9h0m10 13h0m49 1h0m32 6h0m39-24h0m45 23h0m5-11h0m20 10h0m32 1h0m35-11h0m6-11h0m42-5h0m41 19h0m12 11h0m13 29h0m-18 1h0m-13 2h0m-1 13h0m-6-15h0m-71-22h0m-2 5h0m-26-3h0m-26 15h0m-17-10h0m-76 4h0m-27 25h0m-8-34h0m-29 16h0m-8 13h0m-78-2h0m-67-3h0m-20 7h0m5 21h0m78 1h0m10-5h0m18-4h0m27 4h0m17 21h0m12-32h0m49 37h0m7-4h0m95-12h0m49 16h0m0-26h0m15 12h0m95-11h0m-3 36h0m-24 29h0m-33-16h0m-12-19h0m-25-1h0m-31 1h0m-71-1h0m-24 1h0m-50 13h0m-97 15h0m-22-6h0m-71 5h0m-34 6h0m437 13h0" stroke="#7e2c4c" stroke-width="16.0" stroke-linecap="round" fill="none" opacity="1" />
<path transform="scale(0.1)" d="M1929 2606h0m-41 1h0m-62 12h0m-2-6h0m-1-10h0m-15 5h0m-4 9h0m-14-7h0m-4 3h0m-2 5h0m-30-5h0m-10-14h0m-17-4h0m-9 6h0m-33 47h0m17 12h0m44-10h0m0-26h0m16 16h0m1 0h0m11-17h0m24-1h0m16 28h0m10-13h0m16-14h0m5 32h0m3-30h0m19 34h0m12-11h0m22-2h0m2-1h0m4 1h0m1-21h0m13 30h0m2-8h0m0-17h0m7 11h0m11-6h0m16 1h0m0-4h0m11 15h0m14-5h0m11-7h0m9 21h0m16-8h0m1-24h0m63 64h0m-7-14h0m-8-9h0m-10 31h0m-31-9h0m-15-10h0m0-2h0m-1 22h0m-2-32h0m-5 13h0m-1-14h0m-3 35h0m0-19h0m-1-8h0m-11 20h0m0 1h0m-8-10h0m-24 4h0m-1-9h0m-3-10h0m-8 23h0m-4 1h0m-14-14h0m-15 6h0m-3 4h0m-3-20h0m-4 19h0m-9 3h0m-7-14h0m-7-9h0m-2-6h0m-11 9h0m-3 25h0m0-27h0m-21 30h0m-3-1h0m0-8h0m-29 2h0m-4-18h0m-1 18h0m-25-27h0m-8 5h0m-8 28h0m-8-12h0m-15-4h0m-2-8h0m-3 10h0m-4-6h0m-3-15h0m-6 31h0m-16 3h0m-4-29h0m29 63h0m14-21h0m17 17h0m2 4h0m10-26h0m1 18h0m0-20h0m9 0h0m25 30h0m10-4h0m2-12h0m19 6h0m1 12h0m5-18h0m5 5h0m1 18h0m1-8h0m0-2h0m0 6h0m0-15h0m18-16h0m7 27h0m6-7h0m15 16h0m5-39h0m11 38h0m11-12h0m2-18h0m5 20h0m9 8h0m6-36h0m24 27h0m10-27h0m2 31h0m19-24h0m13 31h0m10-31h0m5 18h0m20 5h0m2 1h0m2-12h0m1 2h0m47 38h0m-24-4h0m-6-8h0m-19 18h0m-6-18h0m-7 26h0m-3-26h0m-1 26h0m-1-4h0m-4-2h0m-4 10h0m-1-33h0m-2 22h0m-8-25h0m-24 21h0m-6-12h0m-3-7h0m-3 34h0m-2-33h0m-1 28h0m-1-16h0m-23-14h0m-9 6h0m-3-8h0m-3 15h0m-14-10h0m0 24h0m-3-26h0m-2 35h0m-18-1h0m-4-37h0m-9 15h0m-30 14h0m-4-25h0m0 23h0m-10-20h0m0 21h0m-5 1h0m-14-26h0m-4 1h0m-4-3h0m-49 13h0m-12 22h0m-3-33h0m0 7h0m-11 19h0m0-12h0m-16-14h0m-10 38h0m9 5h0m10 28h0m4 4h0m20-38h0m7 6h0m13 25h0m19 7h0m30-2h0m8-8h0m8 10h0m11-14h0m24 12h0m43-15h0m20-21h0m22 6h0m1 19h0m2 1h0m5-23h0m1 28h0m10-12h0m9 0h0m8 13h0m0-17h0m12-8h0m10 6h0m4 6h0m10 11h0m13-20h0m24 8h0m-7 44h0m-2 10h0m-7-22h0m-14 5h0m-21 1h0m-4-13h0m-5 12h0m-8-8h0m-1 13h0m0-19h0m-5 12h0m-1 19h0m-9-14h0m-1-2h0m-4-16h0m-22 20h0m-13-12h0m-4 5h0m-4-7h0m-3 30h0m0 1h0m-1-29h0m-17-2h0m-13 21h0m-11-17h0m-8 7h0m-27-16h0m-9 19h0m-4-21h0m-26 22h0m-8-8h0m-10-1h0m-1 17h0m-12-20h0m-27 23h0m-16-29h0m-53 10h0m-1 25h0m16 27h0m14-13h0m13-8h0m28 13h0m14 3h0m3-5h0m0 17h0m0-23h0m11 24h0m3-14h0m4 3h0m9-11h0m9 15h0m9-6h0m8-10h0m1-6h0m7 9h0m1-2h0m5 9h0m4 3h0m32-10h0m24 11h0m7-22h0m0-3h0m5 29h0m2-20h0m3 8h0m13-12h0m4 10h0m12 1h0m4 22h0m8-30h0m18 24h0m28-15h0m7 12h0m25 7h0m20-1h0m-25 6h0m-9 27h0m-7-2h0m-5 9h0m-24-6h0m-5-15h0m-6 25h0m-16-20h0m-14 11h0m-14-20h0m-10 15h0m-9-14h0m-19 11h0m-2 10h0m-22-31h0m-19 35h0m-10-12h0m-12-16h0m-20 26h0m-7-5h0m-34 4h0m-13-21h0m-19-5h0m-3 1h0m-6 57h0m57-21h0m8 1h0m22 29h0m17 1h0m12-25h0m9 7h0m3 15h0m11 7h0m3-6h0m7-13h0m3-7h0m76-8h0m58 2h0m-86 34h0m-16 0h0m-15 2h0m-7 3h0m-40 7h0m-4-7h0m-24 4h0m-9 24h0m-24-2h0m-2-26h0m-6 21h0m-11-12h0m-26 1h0m-10 7h0m184 19h0" stroke="#5878b4" stroke-width="16.0" stroke-linecap="round" fill="none" opacity="1" />
<path transform="scale(0.1)" d="M1962 2588h0m-20 22h0m-114-15h0m-40 11h0m-84-18h0m43 34h0m11 23h0m14-7h0m85 21h0m25-16h0m7-14h0m4 27h0m0-27h0m4-7h0m70 1h0m101 66h0m-5-5h0m-17-11h0m-54 16h0m-1 6h0m-18-3h0m-35-10h0m-30-3h0m-16-10h0m-1 5h0m-18-10h0m-15 33h0m-3-20h0m-4 13h0m-32-5h0m-23-10h0m-4-12h0m-23 33h0m-41-32h0m-8 12h0m-1 19h0m-17 30h0m41-5h0m53-3h0m0 2h0m32 19h0m10-27h0m11-3h0m1 28h0m26-1h0m1-21h0m7 7h0m32-8h0m9 6h0m57 16h0m10 0h0m5-16h0m24 21h0m6-15h0m5-11h0m0 0h0m0 22h0m8-7h0m0-7h0m15 2h0m7-11h0m-19 53h0m-22 14h0m-30-18h0m-19 18h0m-11-33h0m-28 14h0m0-21h0m-14 12h0m-48-12h0m-1 33h0m-19-13h0m-23 8h0m-12 2h0m-14-22h0m-13 30h0m-1-34h0m-13 33h0m-36 2h0m-13-3h0m-6-18h0m3 61h0m27-4h0m14-30h0m13 29h0m23-22h0m10 18h0m4-22h0m14 31h0m14-20h0m23-5h0m33 4h0m2 8h0m29-17h0m22 27h0m44-33h0m1 12h0m10 0h0m4 23h0m9-1h0m31-34h0m29 11h0m-29 62h0m-20-36h0m-10 5h0m-46 12h0m-52-15h0m-57 30h0m-9 6h0m-3-30h0m-29-5h0m-39 28h0m-2-21h0m-37 11h0m-3 7h0m-2-7h0m-14 6h0m38 50h0m35 2h0m7-8h0m4 6h0m2-27h0m1 8h0m18 12h0m20-11h0m34 8h0m8 8h0m6-9h0m15-23h0m9 23h0m7-22h0m6 21h0m76-6h0m4 1h0m3 1h0m4 21h0m-47 1h0m-14 18h0m-7 13h0m-32-9h0m-7-24h0m-7 1h0m-13 14h0m-23 4h0m-69 13h0m-41-33h0m-11 10h0m-4-7h0m-9 8h0m0 37h0m42-5h0m2 14h0m1-2h0m26 25h0m29-25h0m22-4h0m10-9h0m11 5h0m3 28h0m2-13h0m26 17h0m28-26h0m30-13h0m-38 55h0m-74-2h0m-5-10h0m-6 7h0m-6 3h0m-28 9h0m-1 13h0m-16-10h0m0-17h0m-2 13h0m-3 11h0" stroke="#4a6298" stroke-width="16.0" stroke-linecap="round" fill="none" opacity="1" />
<path transform="scale(0.1)" d="M906 2936h0m-32-13h0m-4 15h0m-9-25h0m-4 16h0m-13-26h0m-6 48h0m6 21h0m0-27h0m20 11h0m14 18h0m8-26h0m6 18h0m1-10h0m10 0h0m2 15h0m14 8h0m1-10h0m22-2h0m3-10h0m2 4h0m17 13h0m3-4h0m8-5h0m12-9h0m36 17h0m26 0h0m-20 21h0m-14 18h0m-14 4h0m-8-9h0m-9 4h0m-9-12h0m-9 9h0m-3-13h0m-13-9h0m-15 11h0m-7 1h0m-28-3h0m-2 17h0m-10-29h0m-26-2h0m-8 27h0m19 18h0m3 26h0m2-25h0m9 17h0m6-4h0m31 10h0m7-1h0m23-12h0m1 6h0m12-10h0m24 14h0m5-19h0m10-4h0m17 9h0m1 9h0m4 11h0m9-10h0m-10 56h0m-11-9h0m-5 4h0m-1-21h0m-6 12h0m-9-7h0m-7-4h0m-2 10h0m-1-12h0m-1 7h0m-2-15h0m-14 10h0m-5 2h0m0 5h0m-16-7h0m-1-2h0m-28 1h0m-2 13h0m-9-4h0m-6 16h0m-22-37h0m-1 16h0m-9-8h0m-5 12h0m-6-13h0m19 44h0m4-5h0m23 9h0m7-5h0m7 12h0m11-13h0m2 15h0m15-7h0m23 8h0m5-19h0m9 19h0m8 3h0m6 7h0m28-31h0m6 12h0m23 15h0m-46 13h0m-6-1h0m-1 17h0m-4-20h0m-15 9h0m-4-7h0m-3-2h0m-5 10h0m-18 2h0m-8-1h0m-6 27h0m-8-9h0m-6-28h0m-2 32h0m0-26h0m-1 16h0m-11-22h0m-18 27h0m-6 4h0m-8-20h0m-6-13h0m-2 11h0m9 46h0m15 0h0m12 15h0m3-26h0m5-2h0m3 35h0m3-35h0m2-1h0m1 2h0m4 7h0m14 24h0m33-3h0m5-22h0m7 7h0m0-16h0m17 67h0m-1-25h0m-2 31h0m-13 0h0m-4 5h0m-12-25h0m-13 13h0m-9 5h0m-14-21h0m-8 16h0m-20-18h0m-15 3h0m19 67h0m1-11h0m13-13h0m3 2h0m7 2h0m5 17h0m6-33h0m3 22h0m5 7h0m20-8h0m3-25h0m14 15h0m1 9h0m26-13h0m18 25h0m-42 30h0m-10-23h0m-5 8h0m-5 18h0m-14-20h0m-4 18h0m-9 1h0m-3 4h0m-6-13h0m-4-17h0m-30 16h0m26 25h0m2 32h0m3-33h0m35 7h0m5-5h0m10 16h0m11 1h0m14-3h0m6 16h0m8 0h0m-15 8h0" stroke="#2f9398" stroke-width="16.0" stroke-linecap="round" fill="none" opacity="1" />
<path transform="scale(0.1)" d="M835 2942h0m14 27h0m8-18h0m24 6h0m0 11h0m35-25h0m36-1h0m54 67h0m-19 0h0m-50-6h0m-34-15h0m-4 8h0m-11 4h0m-11 5h0m-3-11h0m0 55h0m7 4h0m0-8h0m23 10h0m53 0h0m9-25h0m30 2h0m5 2h0m14-1h0m18 27h0m-2 19h0m-20 18h0m-61-28h0m-27 13h0m-70 0h0m-6-13h0m29 67h0m43-22h0m3 16h0m5-24h0m15 31h0m6-32h0m9 23h0m26-18h0m33 1h0m5 5h0m5-6h0m8 33h0m-10 4h0m-28 22h0m-41-15h0m-61 23h0m-5-24h0m33 55h0m21-14h0m4-9h0m26 6h0m14 11h0m9 46h0m-15-13h0m-15 19h0m-21-34h0m-5 29h0m-39-14h0m11 31h0m21 15h0m4-3h0m7-3h0m12-12h0m5 36h0m3-35h0m15 26h0m5 3h0m6-28h0m4 34h0m10-14h0m34 35h0m-3-5h0m-52 0h0m-29-3h0m-20 11h0m10 44h0m11-14h0m24 12h0m2-8h0m1 4h0m42-20h0m6 48h0" stroke="#1f7378" stroke-width="16.0" stroke-linecap="round" fill="none" opacity="1" />
<path transform="scale(0.1)" d="M1141 2293h0m-4-17h0m-10-11h0m-16 17h0m-31 4h0m-119 34h0m28-19h0m3 18h0m61-11h0m5 7h0m19-14h0m5 11h0m13 20h0m17-4h0m1 12h0m7-18h0m21-2h0m24-3h0m1 10h0m3-2h0m3 9h0m82-32h0m12 34h0m-32 20h0m-2 10h0m-18 8h0m-29-12h0m-6 7h0m-14 7h0m-6-1h0m-42 0h0m-10-4h0m-9-11h0m-7 19h0m-18-27h0m-7 6h0m-7 13h0m-8-13h0m0 20h0m-5 0h0m-2-36h0m0 3h0m-5 32h0m-7-21h0m-11 8h0m-2-8h0m-6 10h0m-30 9h0m-4-33h0m-1 18h0m0-11h0m-4 19h0m-19-16h0m-3 20h0m-22-5h0m-35 28h0m12 8h0m46-5h0m12-14h0m21 4h0m7 32h0m8-2h0m1-32h0m10 8h0m1 24h0m1-7h0m11 2h0m12-9h0m18-3h0m23 14h0m3-28h0m4-5h0m4 23h0m4-25h0m13 15h0m2 5h0m0 4h0m5 8h0m11-18h0m8-10h0m2-4h0m22 21h0m12-20h0m3 12h0m2 3h0m29 15h0m62-27h0m-29 64h0m-52-8h0m-6 1h0m-19-2h0m-23 16h0m-5-9h0m-2-12h0m-19 6h0m-3 6h0m-10 8h0m-3-17h0m-3 1h0m-5 6h0m-20 2h0m-6 7h0m-3-14h0m-26-6h0m-3 7h0m-28-2h0m-20-7h0m-1 27h0m-4-12h0m-4-2h0m-9 4h0m-17-12h0m-2 12h0m-7-8h0m-1 3h0m-1 1h0m-3 6h0m-12-26h0m-1 2h0m-10 30h0m-3-32h0m-19 18h0m-20-14h0m-30 23h0m-39 31h0m13 18h0m7-38h0m8 3h0m8 27h0m14-30h0m13 20h0m4-14h0m11 9h0m13 12h0m2-24h0m9 20h0m4 2h0m22-12h0m3 0h0m3 14h0m4-17h0m2 4h0m6-6h0m2 27h0m11-14h0m1-11h0m1-4h0m15 25h0m1-4h0m5-11h0m4-8h0m11 18h0m3-14h0m4 13h0m3-12h0m4-12h0m1 20h0m10-9h0m1 18h0m4-8h0m8 6h0m2-6h0m2-13h0m12 20h0m2-14h0m5 22h0m6-24h0m5 12h0m1-6h0m0-4h0m2 16h0m1-7h0m0 5h0m6-14h0m12 8h0m14-19h0m9 24h0m5 8h0m1-24h0m8 7h0m9-18h0m14 27h0m9-19h0m3 7h0m0 10h0m5-25h0m55-1h0m44 53h0m-48 8h0m-32 11h0m-7 6h0m-2-7h0m-10-26h0m-18 23h0m-9 6h0m-2-36h0m-1 1h0m-8 9h0m-24 1h0m-14 11h0m-5 15h0m-10-5h0m-3 7h0m-2-18h0m-4 18h0m-2-18h0m-12-16h0m-15-2h0m-3 24h0m0-21h0m-7 7h0m0 13h0m-3-15h0m-6 29h0m-1-32h0m-1 26h0m-25 2h0m-2-21h0m-2 12h0m-21-10h0m-5 21h0m-27-34h0m-27 24h0m-3-21h0m-1 24h0m-25-15h0m-16 11h0m-1 1h0m-8-26h0m-12 7h0m-8 18h0m-1 5h0m-2 2h0m-13 0h0m-1-7h0m0-11h0m-6 11h0m-13 38h0m2-2h0m2-7h0m11 3h0m18 10h0m2-21h0m11 30h0m3-28h0m12-2h0m14-4h0m31 22h0m2-16h0m14 26h0m2-6h0m16-22h0m6-2h0m13 29h0m24-8h0m3-9h0m1 20h0m1-9h0m0-18h0m36-8h0m20 31h0m8-21h0m7-13h0m13 17h0m26-9h0m21 6h0m13 23h0m2-16h0m6 3h0m20 10h0m5 2h0m7-5h0m1-27h0m2 26h0m3-20h0m38 12h0m-2 34h0m0-16h0m-45 37h0m-11 0h0m-14-29h0m-3 15h0m0 3h0m-1-22h0m-3 15h0m-10 9h0m-13-16h0m-2 8h0m-5 3h0m-2-8h0m-1 20h0m-6-15h0m-2 3h0m-4 5h0m-17-23h0m-24-2h0m-9 3h0m-2 11h0m-5 8h0m-3-24h0m-2 1h0m-11 4h0m-18 23h0m-1 0h0m-5-26h0m-11 28h0m-5-14h0m-19 23h0m-2-2h0m-4-31h0m-3-3h0m-6 27h0m-2-16h0m-4 14h0m-16 8h0m-2-29h0m-24 3h0m-10-7h0m-17 3h0m-1 7h0m-19-11h0m-4 37h0m-7-6h0m-8-25h0m-5 14h0m-24 11h0m-18 3h0m3 5h0m1 26h0m2-21h0m7 0h0m4 31h0m54-22h0m6-4h0m35 16h0m15-22h0m6 8h0m55-4h0m2-3h0m7-1h0m2 32h0m12-29h0m3 11h0m7-20h0m7 31h0m28-26h0m3 19h0m34-10h0m27 16h0m4 6h0m0-34h0m1 28h0m1-28h0m9 10h0m17 20h0m7-13h0m14-13h0m28 15h0m10 13h0m152-25h0m-91 68h0m-78-34h0m-9 18h0m-21 11h0m-5 6h0m-2-35h0m-1 34h0m-1-6h0m-16-22h0m-12-9h0m-13 7h0m0 18h0m-2 2h0m-1 3h0m-13 6h0m0-6h0m-1 2h0m-12-17h0m-8 9h0m-14-4h0m-3 13h0m-3-23h0m-4-4h0m-2 27h0m-7-20h0m-6 26h0m-16-12h0m-1-16h0m-14 26h0m-5-23h0m-5-12h0m-10 34h0m-3-19h0m-2-13h0m-51 1h0m-14 7h0m-5 18h0m-9-8h0m-5-21h0m-5 3h0m-5 24h0m-2 5h0m0-13h0m-24-8h0m-4-5h0m-32 9h0m-22 34h0m6 20h0m4-4h0m15 10h0m11-2h0m25 4h0m8 1h0m3-29h0m4 17h0m6 7h0m8-32h0m10 24h0m4 11h0m14-33h0m7 19h0m15-10h0m5 21h0m8-24h0m7-2h0m2-4h0m8 7h0m4 20h0m2-23h0m2-1h0m7 23h0m3 2h0m16-22h0m4 19h0m19-28h0m12 36h0m4-16h0m0 0h0m3 9h0m3-5h0m7 9h0m2-14h0m4-10h0m18 26h0m10 4h0m8-15h0m2 10h0m33-15h0m8-15h0m1 8h0m18 4h0m10 3h0m5-10h0m18 13h0m5 17h0m15-24h0m5 17h0m12-19h0m75 15h0m-32 20h0m-20 27h0m-5-25h0m-22 17h0m-32-1h0m-10-4h0m-1 11h0m-1 0h0m-7-31h0m-7-2h0m-1 23h0m-17-20h0m-27 17h0m-3 3h0m-17-23h0m-2 36h0m-1-1h0m-9-19h0m-27 13h0m-7-12h0m-19 4h0m-3-6h0m-5 13h0m-9-23h0m-9 30h0m-3-10h0m-2 13h0m-1-12h0m-20-5h0m-2-5h0m-18-4h0m-1 17h0m-11-13h0m-3 17h0m-4-7h0m-17 9h0m-6-11h0m-8-7h0m-1 1h0m-18-11h0m-2 30h0m-1-23h0m-9-2h0m-3 17h0m-4-6h0m-33-21h0m-16 41h0m11 0h0m42 2h0m2-5h0m9 10h0m22 1h0m3 5h0m0 9h0m9 6h0m31-27h0m10 35h0m0-3h0m1-18h0m5-3h0m3-10h0m1 4h0m14 11h0m6-5h0m1-7h0m3 23h0m1-16h0m6-2h0m7-13h0m1 21h0m10-20h0m46 15h0m9-5h0m55 3h0m0 0h0m31 14h0m6 7h0m9-36h0m34 5h0m5 32h0m68-12h0m51 16h0m-79 15h0m-27 18h0m-14-13h0m-51 17h0m-7-27h0m-6-6h0m-21 22h0m-3-1h0m-7-7h0m-36 1h0m-6-14h0m-2 29h0m-8-6h0m-6-25h0m-1 2h0m-9 4h0m-2-1h0m-1-8h0m-7 4h0m-13 4h0m-7 11h0m-13-14h0m-9 28h0m-4-30h0m-8 19h0m-9-4h0m-6-18h0m-6 27h0m-41-17h0m-11 23h0m-4-29h0m-1 1h0m-19-1h0m-6 5h0m-26 18h0m-2-14h0m-13 15h0m-2-17h0m-6 20h0m119 20h0m0 8h0m6 10h0m2-1h0m6-8h0m6 13h0m19-22h0m4 24h0m2-7h0m3-26h0m11 25h0m1 7h0m33-4h0m6-12h0m9-14h0m8 17h0m8 3h0m24-16h0m4 18h0m6-22h0m11-2h0m1 13h0m10-5h0m5 20h0m8 1h0m6-18h0m5 17h0m18 5h0m5-1h0m3 4h0m9 1h0m27-7h0m5-22h0m7 0h0m25 7h0m73 57h0m-45-18h0m-57 21h0m-1-21h0m-36 17h0m-20 3h0m-8-13h0m-3-19h0m-32 6h0m-12 23h0m-9-33h0m-3 9h0m-10 12h0m-1 1h0m-1-2h0m-4-2h0m-16 1h0m-8 2h0m-1-12h0m-2-3h0m-1 6h0m-2 6h0m-29 1h0m-28-7h0m-14 4h0m-4-14h0m52 55h0m15-9h0m3-4h0m22-4h0m11 4h0m7 17h0m11-2h0m10-4h0m9-6h0m7 16h0m25-21h0m16 3h0m12 4h0m16-3h0m8 28h0m9-36h0m12 30h0m-23 14h0m-2 15h0m-75-2h0m-17-15h0m-6 24h0m92 22h0" stroke="#e6101c" stroke-width="16.0" stroke-linecap="round" fill="none" opacity="1" />
<path transform="scale(0.1)" d="M1203 2273h0m-126 19h0m-41 7h0m-50 26h0m21 1h0m36 5h0m10-13h0m17 9h0m46-5h0m56-4h0m-22 50h0m-4 9h0m-33-2h0m-43-34h0m-14 16h0m-31-17h0m-5 6h0m-41-4h0m-4 11h0m-38 13h0m-66 44h0m71 4h0m1-2h0m30-19h0m54-1h0m1-7h0m1 28h0m25-29h0m41 20h0m65 11h0m31-23h0m1-7h0m15 64h0m-8 11h0m-7-33h0m-21 7h0m-6-4h0m-17 12h0m-12 0h0m-15 0h0m-25 11h0m-6 2h0m-53-2h0m-6-10h0m-2 6h0m-37-15h0m-14 13h0m-11 5h0m-2-9h0m-13 5h0m-16 9h0m-23-20h0m-9 17h0m-7 2h0m-3 2h0m-86 17h0m9-5h0m13 2h0m13 17h0m15-9h0m10-10h0m12 12h0m1-11h0m23 10h0m9-3h0m25 6h0m12 8h0m11-29h0m29 12h0m14 3h0m16 14h0m11-21h0m16-10h0m9 4h0m5 31h0m5-13h0m13 5h0m11 3h0m6-26h0m18 7h0m82 25h0m8 0h0m23 1h0m29-38h0m-71 48h0m-1 32h0m0-27h0m-5 2h0m-8 14h0m-19-16h0m-26-13h0m-23 3h0m-6 3h0m-7-1h0m-29 27h0m-27 1h0m-22-24h0m-19 1h0m0 15h0m-3-17h0m-6 23h0m-21 9h0m-12-39h0m-4 28h0m-2 7h0m-30-7h0m-9-13h0m-28-2h0m-5-4h0m-13 11h0m-1 0h0m-18 0h0m-13-17h0m-1 20h0m-4 1h0m-46 52h0m26-12h0m1 11h0m8-33h0m4 18h0m4-6h0m10-6h0m2 11h0m18-9h0m23 12h0m13-23h0m21 4h0m39 0h0m12 18h0m5 1h0m17-13h0m23 21h0m19-8h0m18-6h0m10 5h0m47 5h0m20-4h0m41-21h0m4 7h0m170 66h0m-117-33h0m-93 25h0m-16-7h0m-30-9h0m-2 26h0m-5-8h0m-31-23h0m-10 15h0m-1-16h0m-16 21h0m-50-13h0m-4 7h0m-8 3h0m-37-4h0m-60 4h0m-5-16h0m-16 13h0m-29 2h0m-7-16h0m-9 20h0m27 27h0m27-10h0m25 20h0m24-13h0m20-9h0m44 31h0m5-25h0m42 30h0m13-10h0m14-19h0m4-1h0m12 1h0m35 28h0m3-3h0m9-14h0m2-19h0m20 18h0m42 17h0m27-7h0m91 37h0m-8-24h0m-5 22h0m-88-21h0m-20 36h0m-22-13h0m-18-17h0m-3 32h0m-28-4h0m-1-7h0m-1 10h0m-6 0h0m0-11h0m-9-9h0m0 3h0m-3-6h0m-7 0h0m-5 11h0m-5-8h0m-52 17h0m-1-6h0m-5-9h0m0 9h0m-12-17h0m-25-2h0m-25 18h0m-56-20h0m-15-6h0m-15 6h0m-8-4h0m-24 9h0m-8 19h0m-10 26h0m27-1h0m37 16h0m1 0h0m22-33h0m29 5h0m5 18h0m49 16h0m27-35h0m120 5h0m0 28h0m0-8h0m7-29h0m8 9h0m19 22h0m32-10h0m23 11h0m3-1h0m0 1h0m15 40h0m-24 3h0m-5-6h0m-45-17h0m-7-6h0m-7 32h0m-15-10h0m-33-26h0m-21 36h0m-12-34h0m-30 16h0m-15 14h0m-16-31h0m-10 30h0m-53-5h0m-11 10h0m-4-30h0m-2 9h0m-28-8h0m-8 24h0m-13-28h0m-17 14h0m-50 0h0m11 26h0m25 9h0m13 22h0m2-7h0m50-4h0m2-24h0m19 31h0m23-30h0m24 3h0m17 31h0m19-10h0m67-25h0m11 37h0m52-16h0m25 16h0m10-22h0m5 7h0m34-12h0m43 22h0m-6 36h0m-70-1h0m-8-27h0m-3 36h0m-33-26h0m-18 27h0m-82-29h0m-5 11h0m-17 1h0m-5-18h0m-40-1h0m-2-1h0m-19 16h0m-5 14h0m-7-23h0m-14 10h0m-34 20h0m-1-37h0m-6 37h0m-5-8h0m57 17h0m6 0h0m9 7h0m46-15h0m16 31h0m8 0h0m6-16h0m31 17h0m3-2h0m30-10h0m24-11h0m199 20h0m-50 26h0m-39 23h0m-49-22h0m-36 0h0m-2 2h0m-47-1h0m-6 2h0m-3 14h0m-10 4h0m-7-2h0m-10 5h0m-4 0h0m-11-30h0m72 32h0m59 14h0m29 4h0" stroke="#b50f22" stroke-width="16.0" stroke-linecap="round" fill="none" opacity="1" />
<path transform="scale(0.1)" d="M1221 2165h0m31 12h0m6-34h0m9 25h0m4-6h0m23-8h0m60 58h0m-24-4h0m-18-4h0m-3 2h0m-6-15h0m-7 26h0m-10-21h0m-14 5h0m-10-3h0m-11 21h0m-1-7h0m-2-15h0m-2 19h0m-2-27h0m-7 23h0m-3-3h0m-10-12h0m0-5h0m-1 9h0m-4 9h0m-6 1h0m-1-18h0m-7 14h0m-6-15h0m-21 4h0m-25 26h0m0 4h0m4 12h0m8-3h0m19-6h0m5 23h0m2 3h0m7-9h0m2-26h0m4 3h0m3 34h0m1-19h0m0 3h0m2 14h0m3-24h0m1 20h0m2-25h0m2-6h0m6 25h0m11-19h0m12-3h0m6 4h0m0 31h0m6-8h0m5-18h0m8-2h0m11 1h0m10 19h0m12-1h0m10 4h0m6-31h0m2 2h0m22 31h0m2-19h0m0-11h0m2 3h0m43 49h0m-37 7h0m-10-10h0m-19-14h0m-33 35h0m-18-28h0m-21 5h0m-20 9h0m-42-15h0m-30 5h0m-38-6h0" stroke="#3ea050" stroke-width="16.0" stroke-linecap="round" fill="none" opacity="1" />
<path transform="scale(0.1)" d="M1271 2128h0m-8 3h0m-28 47h0m55 2h0m2-5h0m4-1h0m41 27h0m-14 11h0m-2-23h0m-1-5h0m-4 16h0m-53-10h0m-2 0h0m-6-6h0m-10 2h0m-3 19h0m-21-8h0m-4-9h0m-44 59h0m8-5h0m14-5h0m16-8h0m4-7h0m67 22h0m30 10h0m14-15h0m10 18h0m22-10h0m-12 36h0m-94 1h0m-80-23h0m-15 5h0" stroke="#2f8040" stroke-width="16.0" stroke-linecap="round" fill="none" opacity="1" />
<text x="106.2" y="260.0" font-size="9.8" fill="#111" text-anchor="middle" stroke="#111" stroke-width="0.45">0</text>
<text x="142.3" y="262.7" font-size="9.8" fill="#111" text-anchor="middle" stroke="#111" stroke-width="0.45">1</text>
<text x="184.7" y="288.8" font-size="9.8" fill="#111" text-anchor="middle" stroke="#111" stroke-width="0.45">2</text>
<text x="98.5" y="313.7" font-size="9.8" fill="#111" text-anchor="middle" stroke="#111" stroke-width="0.45">3</text>
<text x="130.8" y="222.3" font-size="9.8" fill="#111" text-anchor="middle" stroke="#111" stroke-width="0.45">4</text>
<rect x="58.5" y="172.4" width="61.5" height="38.0" rx="4.5" fill="#8fc197" stroke="#3b4a3c" stroke-width="1.4"/>
<text x="89.2" y="180.1" font-size="6.6" fill="#2a2a2a" text-anchor="middle" stroke="#2a2a2a" stroke-width="0.16" >4. Proliferative</text>
<text x="61.2" y="190.7" font-size="6.3" fill="#1e4a22" text-anchor="start" stroke="#1e4a22" stroke-width="0.16" >CDKN2C</text>
<text x="95.1" y="190.7" font-size="6.3" fill="#1e4a22" text-anchor="start" stroke="#1e4a22" stroke-width="0.16" >CDKN3</text>
<text x="61.2" y="198.4" font-size="6.3" fill="#1e4a22" text-anchor="start" stroke="#1e4a22" stroke-width="0.16" >UBE2S</text>
<text x="95.1" y="198.4" font-size="6.3" fill="#1e4a22" text-anchor="start" stroke="#1e4a22" stroke-width="0.16" >CDC42</text>
<text x="61.2" y="206.1" font-size="6.3" fill="#1e4a22" text-anchor="start" stroke="#1e4a22" stroke-width="0.16" >CDCA2</text>
<rect x="7.2" y="216.5" width="59.2" height="49.0" rx="4.5" fill="#e8754f" stroke="#5a3a38" stroke-width="1.4"/>
<text x="36.4" y="226.6" font-size="6.6" fill="#fbe3d6" text-anchor="middle" stroke="#fbe3d6" stroke-width="0.16" >0. Resting</text>
<text x="10.1" y="237.0" font-size="6.3" fill="#fbe3d6" text-anchor="start" stroke="#fbe3d6" stroke-width="0.16" >KLRC1</text>
<text x="37.8" y="237.0" font-size="6.3" fill="#fbe3d6" text-anchor="start" stroke="#fbe3d6" stroke-width="0.16" >FCER1G</text>
<text x="10.1" y="244.5" font-size="6.3" fill="#fbe3d6" text-anchor="start" stroke="#fbe3d6" stroke-width="0.16" >KLRB1</text>
<text x="37.8" y="244.5" font-size="6.3" fill="#fbe3d6" text-anchor="start" stroke="#fbe3d6" stroke-width="0.16" >CEBPD</text>
<text x="10.1" y="252.0" font-size="6.3" fill="#fbe3d6" text-anchor="start" stroke="#fbe3d6" stroke-width="0.16" >CCL5</text>
<text x="37.8" y="252.0" font-size="6.3" fill="#fbe3d6" text-anchor="start" stroke="#fbe3d6" stroke-width="0.16" >GNLY</text>
<text x="10.1" y="259.6" font-size="6.3" fill="#fbe3d6" text-anchor="start" stroke="#fbe3d6" stroke-width="0.16" >CLIC3</text>
<text x="37.8" y="259.6" font-size="6.3" fill="#fbe3d6" text-anchor="start" stroke="#fbe3d6" stroke-width="0.16" >TYROBP</text>
<rect x="179.2" y="202.7" width="67.70000000000002" height="47.70000000000002" rx="4.5" fill="#4e72b4" stroke="#243a68" stroke-width="1.4"/>
<text x="212.3" y="211.2" font-size="6.6" fill="#ffffff" text-anchor="middle" stroke="#ffffff" stroke-width="0.16" >2. Activated</text>
<text x="182.3" y="221.4" font-size="6.3" fill="#ffffff" text-anchor="start" stroke="#ffffff" stroke-width="0.16" >CRTAM</text>
<text x="212.3" y="221.4" font-size="6.3" fill="#ffffff" text-anchor="start" stroke="#ffffff" stroke-width="0.16" >TNFRSF9</text>
<text x="182.3" y="229.3" font-size="6.3" fill="#ffffff" text-anchor="start" stroke="#ffffff" stroke-width="0.16" >BIRC3</text>
<text x="212.3" y="229.3" font-size="6.3" fill="#ffffff" text-anchor="start" stroke="#ffffff" stroke-width="0.16" >TNFRSF18</text>
<text x="182.3" y="237.2" font-size="6.3" fill="#ffffff" text-anchor="start" stroke="#ffffff" stroke-width="0.16" >XCL1</text>
<text x="212.3" y="237.2" font-size="6.3" fill="#ffffff" text-anchor="start" stroke="#ffffff" stroke-width="0.16" >CCL1</text>
<text x="182.3" y="245.0" font-size="6.3" fill="#ffffff" text-anchor="start" stroke="#ffffff" stroke-width="0.16" >JUND</text>
<text x="212.3" y="245.0" font-size="6.3" fill="#ffffff" text-anchor="start" stroke="#ffffff" stroke-width="0.16" >TNFSF10</text>
<rect x="8.5" y="306" width="67.7" height="47.5" rx="4.5" fill="#5a9da3" stroke="#2a5a5e" stroke-width="1.4"/>
<text x="42.5" y="315.0" font-size="6.6" fill="#f2fafa" text-anchor="middle" stroke="#f2fafa" stroke-width="0.16" >3. Dexamethasone</text>
<text x="15.0" y="325.0" font-size="6.3" fill="#f2fafa" text-anchor="start" stroke="#f2fafa" stroke-width="0.16" >ISG20</text>
<text x="49.0" y="325.0" font-size="6.3" fill="#f2fafa" text-anchor="start" stroke="#f2fafa" stroke-width="0.16" >FKBP5</text>
<text x="15.0" y="333.0" font-size="6.3" fill="#f2fafa" text-anchor="start" stroke="#f2fafa" stroke-width="0.16" >DDIT4</text>
<text x="49.0" y="333.0" font-size="6.3" fill="#f2fafa" text-anchor="start" stroke="#f2fafa" stroke-width="0.16" >TXNIP</text>
<text x="15.0" y="341.0" font-size="6.3" fill="#f2fafa" text-anchor="start" stroke="#f2fafa" stroke-width="0.16" >LAIR2</text>
<text x="49.0" y="341.0" font-size="6.3" fill="#f2fafa" text-anchor="start" stroke="#f2fafa" stroke-width="0.16" >IL7R</text>
<text x="15.0" y="348.7" font-size="6.3" fill="#f2fafa" text-anchor="start" stroke="#f2fafa" stroke-width="0.16" >CXCR4</text>
<text x="49.0" y="348.7" font-size="6.3" fill="#f2fafa" text-anchor="start" stroke="#f2fafa" stroke-width="0.16" >KLRD1</text>
<rect x="136.9" y="314.2" width="63.900000000000006" height="40.80000000000001" rx="4.5" fill="#a65872" stroke="#4a2232" stroke-width="1.4"/>
<text x="168.4" y="323.2" font-size="6.6" fill="#fbe6ee" text-anchor="middle" stroke="#fbe6ee" stroke-width="0.16" >1. Adaptive</text>
<text x="141.1" y="333.5" font-size="6.3" fill="#fbe6ee" text-anchor="start" stroke="#fbe6ee" stroke-width="0.16" >KLRC2</text>
<text x="176.9" y="333.5" font-size="6.3" fill="#fbe6ee" text-anchor="start" stroke="#fbe6ee" stroke-width="0.16" >GZMH</text>
<text x="141.1" y="341.0" font-size="6.3" fill="#fbe6ee" text-anchor="start" stroke="#fbe6ee" stroke-width="0.16" >HLA-DRA</text>
<text x="176.9" y="341.0" font-size="6.3" fill="#fbe6ee" text-anchor="start" stroke="#fbe6ee" stroke-width="0.16" >GZMA</text>
<text x="141.1" y="348.5" font-size="6.3" fill="#fbe6ee" text-anchor="start" stroke="#fbe6ee" stroke-width="0.16" >VIM</text>
<text x="127.7" y="189.4" font-size="6.7" fill="#222" text-anchor="start" stroke="#222" stroke-width="0.16" >Ex-vivo expanded NK cells</text>
<circle cx="227.3" cy="279.3" r="2.9" fill="#e8001c"/>
<text x="234" y="281.6" font-size="6.6" fill="#333" text-anchor="start" stroke="#333" stroke-width="0.16" >0</text>
<circle cx="227.3" cy="289.9" r="2.9" fill="#a0406a"/>
<text x="234" y="292.2" font-size="6.6" fill="#333" text-anchor="start" stroke="#333" stroke-width="0.16" >1</text>
<circle cx="227.3" cy="300.0" r="2.9" fill="#4a70b0"/>
<text x="234" y="302.3" font-size="6.6" fill="#333" text-anchor="start" stroke="#333" stroke-width="0.16" >2</text>
<circle cx="227.3" cy="310.2" r="2.9" fill="#2a8a90"/>
<text x="234" y="312.5" font-size="6.6" fill="#333" text-anchor="start" stroke="#333" stroke-width="0.16" >3</text>
<circle cx="227.3" cy="320.5" r="2.9" fill="#3a9a4a"/>
<text x="234" y="322.8" font-size="6.6" fill="#333" text-anchor="start" stroke="#333" stroke-width="0.16" >4</text>
<text x="7.6" y="167.1" font-size="11.4" fill="#111" text-anchor="start" font-weight="bold" stroke="#111" stroke-width="0.55">B</text>
<text x="262.5" y="167.7" font-size="11.6" fill="#111" text-anchor="start" font-weight="bold" stroke="#111" stroke-width="0.55">C</text>
<text x="7.6" y="390.7" font-size="12.0" fill="#111" text-anchor="start" font-weight="bold" stroke="#111" stroke-width="0.55">D</text>
<defs><g id="gm"><path transform="scale(0.1)" d="M206 15h0m17-14h0m2-6h0m2 21h0m2-23h0m11 26h0m26 23h0m-2 9h0m-1 4h0m-5-19h0m-3 4h0m-3 9h0m0-1h0m-1-20h0m0-2h0m-2 9h0m-2 2h0m-1 1h0m-3-8h0m-3 14h0m-2-23h0m-2 12h0m-2 20h0m-5-1h0m-3 1h0m-1-24h0m-3-4h0m-1 25h0m-1-4h0m-1-4h0m-1-9h0m0 15h0m0-4h0m-1-17h0m-1 11h0m-3-16h0m-1 18h0m-4-10h0m-1 5h0m-1 6h0m-1 6h0m0-19h0m-1 22h0m0-3h0m-1 6h0m0-12h0m0-10h0m-1 21h0m-1 6h0m-1-1h0m-1-9h0m-2-1h0m0-17h0m-8 29h0m-8-4h0m-3 2h0m-2-9h0m-74 45h0m29 4h0m11-9h0m1-3h0m1-2h0m0 16h0m7-14h0m5 0h0m1-3h0m6-10h0m1 0h0m5 7h0m8 17h0m3-20h0m5-6h0m0-8h0m1 37h0m1-12h0m3-1h0m0 3h0m2-24h0m1 24h0m0-22h0m3-6h0m1 27h0m1-11h0m1 19h0m1-28h0m1 18h0m1-19h0m1-3h0m2 18h0m3-21h0m1 24h0m3-3h0m8 2h0m1-16h0m0 20h0m1-11h0m2-14h0m1 31h0m6-21h0m2 19h0m1-32h0m5 30h0m0-27h0m5 0h0m3 35h0m0-32h0m2-1h0m5 5h0m4-2h0m4 10h0m0 5h0m4 1h0m17-4h0m20 58h0m-10-1h0m0 2h0m-9-6h0m-1-9h0m-10 2h0m-2 12h0m-9-17h0m0 15h0m-12-24h0m-3-1h0m-1 5h0m-5 0h0m0-1h0m-1 22h0m-3-23h0m0 19h0m-2-31h0m-1-2h0m0 15h0m-2-13h0m-2 17h0m-3-5h0m-3 19h0m-3-32h0m-1 31h0m-1-18h0m-7 11h0m-2-3h0m-1 15h0m-4-23h0m-2 22h0m-9-16h0m-4 9h0m-2 8h0m-4-34h0m0 21h0m-1-17h0m0 33h0m-2-3h0m0-35h0m-8 35h0m-1-2h0m0 0h0m-1-31h0m-3 35h0m-2-28h0m-6 25h0m0-31h0m0 3h0m-2 8h0m0 20h0m0-27h0m-3 25h0m-3-7h0m-2-16h0m-2 27h0m-8-16h0m-1-14h0m0 8h0m-1-12h0m-4 30h0m0-32h0m-1 24h0m-2-23h0m0 23h0m-3 12h0m-1-21h0m0 1h0m0-7h0m-5 14h0m-3-9h0m-2 4h0m-1 5h0m-2 6h0m-10-27h0m-6 13h0m0 0h0m0 10h0m0-6h0m-2 2h0m0 9h0m-6-28h0m-3 18h0m-1 13h0m-7-4h0m-23 44h0m4-28h0m5 17h0m1-12h0m3 20h0m7 7h0m2-3h0m0-1h0m3 3h0m1-21h0m0 15h0m4 7h0m0-30h0m4 29h0m2-2h0m2 0h0m1-30h0m1 31h0m2 1h0m3-34h0m3 26h0m0-8h0m3 11h0m1-12h0m0-18h0m5 4h0m0 14h0m1-4h0m5 1h0m1-12h0m0 28h0m0-32h0m1 16h0m0 21h0m0-9h0m3-25h0m0 8h0m3-9h0m5-2h0m0 9h0m1 22h0m4 4h0m2-14h0m3-4h0m2-16h0m2 33h0m0-36h0m2 32h0m2-19h0m5 24h0m0-30h0m1 3h0m0 3h0m1 21h0m1-17h0m4 18h0m3-5h0m1 7h0m0-19h0m7-5h0m1 19h0m0 3h0m1-20h0m0 11h0m2-15h0m1 22h0m1-14h0m3 9h0m2 2h0m0-24h0m1 2h0m1-4h0m1 30h0m3 0h0m3-28h0m0-4h0m1 24h0m4-9h0m2 22h0m1-26h0m3-1h0m8 28h0m2-9h0m5-10h0m1-9h0m6 20h0m0-31h0m0 17h0m2-13h0m7 4h0m0 4h0m4 10h0m2-13h0m3 21h0m1-11h0m4-11h0m5 3h0m17 20h0m7-19h0m1 26h0m1-34h0m0 2h0m5 29h0m1-7h0m1 2h0m1-17h0m3 16h0m0-3h0m1 3h0m1 5h0m1-23h0m2 12h0m3-22h0m1 34h0m2-14h0m0 2h0m3 7h0m1 3h0m3-33h0m7 19h0m0 12h0m11 1h0m34 33h0m0 10h0m-13-6h0m-3-24h0m-2 18h0m-1-13h0m-1 16h0m-2 5h0m0-13h0m-2-10h0m0-5h0m-3 26h0m-1 6h0m-9-28h0m-1 27h0m-5-16h0m-5-16h0m-1 0h0m-2 32h0m-1-31h0m-2 36h0m-2-21h0m-2 13h0m-3 0h0m-4-28h0m-5 6h0m-2-9h0m-1 36h0m0 2h0m-17-35h0m-4 31h0m-3-21h0m-4-10h0m-4-1h0m-1-2h0m0 18h0m-10 21h0m-1-12h0m-2 1h0m-3-19h0m-1-4h0m0 1h0m-4-3h0m-1 24h0m-3-11h0m-1-2h0m-2 1h0m-2 21h0m-3-32h0m-1 15h0m-11-13h0m-1 21h0m-1-14h0m-2-8h0m-7 21h0m-2-22h0m-1 28h0m-3-4h0m-2-26h0m-1 30h0m0 3h0m-1-32h0m-1 33h0m-2-8h0m-4 10h0m-1-6h0m0-26h0m-1 33h0m-1-18h0m0-6h0m0 22h0m-1-5h0m-2 3h0m-3-13h0m0-22h0m-5 28h0m-1 0h0m0-22h0m-2 22h0m-1 0h0m-1-20h0m-3 5h0m-1-11h0m0 9h0m-2 11h0m-3 7h0m-1 5h0m0-26h0m-2 23h0m0-31h0m0 1h0m-1 6h0m-2-5h0m0 20h0m0 9h0m-1-12h0m-4 2h0m-2-7h0m-2 8h0m-1-3h0m0 4h0m-1-9h0m0 2h0m0 4h0m-2 5h0m0-12h0m-2-6h0m-3 7h0m-1-9h0m0 17h0m-5-22h0m-1 11h0m0 18h0m-2-18h0m-2 24h0m-1-17h0m-1 16h0m0-11h0m-1 0h0m0-11h0m-2 20h0m-1 0h0m-2-15h0m0-11h0m-2 7h0m-1 7h0m-2-8h0m-2 8h0m0 13h0m-1-1h0m-1 4h0m-2-26h0m-2-7h0m-3 18h0m-2-21h0m-2 37h0m-1-31h0m-2 3h0m-1 9h0m-2 10h0m0-5h0m-3 3h0m0-16h0m-2 8h0m-1-5h0m-1-2h0m-2 10h0m-1-8h0m-2 0h0m-7-11h0m0 35h0m-2-36h0m0 19h0m0 11h0m-2-12h0m-1-17h0m-1 1h0m-2 4h0m-1 14h0m-3-10h0m0 6h0m-1 19h0m-1 1h0m-1-4h0m-3-23h0m-2-1h0m-2 8h0m0-1h0m-3 12h0m-3-23h0m-2 28h0m-2-34h0m-3 12h0m0 19h0m-3-23h0m-3 3h0m-3 17h0m-1-14h0m-5 4h0m-8 55h0m8-8h0m1-4h0m2 5h0m1 6h0m2-28h0m1 19h0m0-10h0m2-5h0m0 16h0m2-4h0m3-17h0m0 25h0m1-20h0m0-1h0m0 10h0m1-13h0m0 19h0m5 10h0m1-16h0m0 19h0m1 3h0m1-21h0m5-13h0m0-1h0m0-4h0m2 39h0m2-25h0m1 11h0m4 12h0m3-25h0m6 15h0m0-21h0m1 11h0m1-12h0m1 9h0m3-9h0m1 35h0m0-8h0m1-3h0m7-13h0m3-1h0m2-6h0m0 28h0m1-32h0m3 27h0m2-7h0m0-14h0m2 1h0m0 13h0m7 2h0m1-9h0m0 4h0m1 12h0m1-30h0m1 5h0m1 27h0m11 2h0m0-30h0m2 5h0m1 12h0m2 11h0m1 2h0m0-3h0m3-27h0m1 30h0m1 0h0m0-7h0m1-10h0m0 7h0m2 9h0m0-18h0m2 5h0m2-12h0m3-5h0m0-6h0m1 10h0m2-10h0m1 10h0m1-4h0m5 3h0m2-9h0m2 15h0m2 11h0m7-8h0m2 6h0m5 8h0m0-9h0m3 13h0m0-11h0m1-17h0m1 31h0m3-34h0m4 25h0m1-18h0m1 19h0m1-15h0m2 12h0m1-15h0m1 15h0m0-24h0m1 12h0m0-9h0m1 3h0m4 0h0m12 13h0m1 2h0m1 10h0m4 0h0m3-1h0m2-25h0m6-4h0m1 25h0m3-22h0m10 31h0m0-40h0m2 15h0m3-6h0m0 4h0m3 21h0m1-34h0m7 29h0m2-3h0m16-4h0m6-12h0m6 16h0m1-7h0m3 7h0m1-3h0m0-18h0m4 5h0m1 29h0m4-18h0m2 0h0m7-6h0m0 18h0m6-31h0m9 1h0m0 12h0m1 8h0m2-6h0m5 6h0m1 14h0m2-30h0m0 24h0m4 3h0m4-2h0m2-17h0m2 9h0m5-16h0m3-2h0m3 7h0m3 11h0m1-22h0m2 14h0m1-8h0m1 21h0m1-16h0m1-4h0m2-5h0m0 21h0m2-17h0m6 15h0m5 0h0m2-7h0m3 22h0m0-34h0m5 23h0m1 5h0m4-4h0m1-3h0m1 12h0m173 40h0m-31-24h0m-11 15h0m-6-2h0m-12 12h0m-6-3h0m-2 5h0m-3-14h0m-21 11h0m-5-1h0m-6-18h0m-1 15h0m-1-3h0m-1-7h0m-10 9h0m-7-4h0m-2 2h0m-2 3h0m-5 4h0m-11-7h0m-4 7h0m-1-16h0m-1 14h0m-2 1h0m-6-17h0m0-1h0m-6 13h0m0 5h0m-5 0h0m-2-22h0m-5 18h0m-3-1h0m-2-14h0m-1 12h0m-6-15h0m-6 14h0m0-11h0m-2-4h0m-10-1h0m0 18h0m-1-27h0m-1 18h0m0-21h0m-1 29h0m-3-24h0m0-2h0m-5 9h0m-7 15h0m-5-23h0m-7 19h0m-2 16h0m-3-4h0m-5-21h0m-1 14h0m-1-13h0m0 24h0m-2-31h0m-3 23h0m-1 4h0m-4-7h0m-3 8h0m0-24h0m-1 13h0m-1-15h0m0 2h0m-3-7h0m-7 29h0m-1-1h0m-1-14h0m-2 20h0m-1-30h0m-5 16h0m-4-7h0m0 16h0m-2-27h0m-4 14h0m-2 4h0m-1 2h0m-2 2h0m-1-27h0m-2 12h0m-5 9h0m0-23h0m-1 31h0m-1-13h0m-1 5h0m-2-8h0m-6-2h0m-2 0h0m-3 9h0m-1 18h0m0-15h0m-5-23h0m-2 34h0m-9-24h0m-13 8h0m-4-8h0m-1 4h0m0 12h0m-1-3h0m-2-3h0m-1-21h0m-5 3h0m-4 21h0m-4 14h0m0-1h0m-1-14h0m-3 10h0m-1-4h0m-7-14h0m-1-10h0m-4 32h0m0-22h0m-1 6h0m-6 7h0m0-21h0m-1 2h0m-1-4h0m-1 31h0m-4-26h0m0 25h0m-3-11h0m-1 4h0m-2-27h0m-1 5h0m0-1h0m0 13h0m-1 0h0m-1-11h0m-1-4h0m0 11h0m-3-9h0m0 12h0m-1-10h0m0 10h0m-1-7h0m-5-10h0m-1 15h0m-1 10h0m-2-14h0m-11 11h0m-3 9h0m-1-27h0m-2 17h0m0-13h0m-1-2h0m0 16h0m-7 10h0m-1-23h0m-4 8h0m-2-7h0m-1 1h0m-1 18h0m-1-7h0m-5-10h0m-2-9h0m-3 18h0m0 2h0m-3-22h0m-1 20h0m-2-4h0m-1-1h0m-2-9h0m-3 5h0m-1-10h0m-2 9h0m-7 4h0m-3 10h0m0-20h0m-1 12h0m-2 3h0m-6-20h0m-1 23h0m-11 7h0m-1-28h0m-3 22h0m-2-17h0m-5 10h0m-3-4h0m-1-8h0m-8 20h0m-7-11h0m-1 25h0m-4-30h0m-1 12h0m-1 12h0m0-15h0m-1-3h0m2 54h0m1 5h0m3 4h0m1-19h0m4-10h0m0-1h0m4 26h0m7-31h0m3 1h0m2 3h0m5-5h0m3 37h0m3-20h0m1-14h0m2-3h0m0 22h0m1 0h0m1-23h0m3 12h0m0 25h0m4-20h0m2-11h0m2 19h0m1 1h0m2 10h0m0 0h0m1-34h0m6 14h0m6 12h0m3-1h0m1-2h0m1-20h0m3 24h0m2-2h0m1-1h0m0-25h0m1 8h0m1 11h0m4-13h0m1-7h0m1-2h0m3 27h0m0-8h0m0-5h0m0 8h0m1 8h0m1-8h0m4-15h0m1 10h0m4 8h0m3-1h0m4 13h0m0-1h0m2-16h0m1 18h0m0-33h0m3 15h0m2-8h0m0 18h0m4-19h0m2 4h0m1-5h0m2 4h0m0-2h0m0-2h0m4 7h0m0 7h0m2-4h0m0-2h0m0 4h0m1 1h0m0-5h0m0 4h0m1 17h0m4-21h0m1-13h0m5 25h0m1-29h0m1 23h0m1-18h0m0 19h0m3-19h0m1 24h0m2-3h0m2-11h0m3 3h0m1-16h0m0 20h0m2 11h0m1-14h0m6 10h0m3-17h0m3 24h0m0-35h0m1 1h0m1 35h0m2-38h0m3 26h0m4 7h0m6 0h0m2-1h0m4-26h0m8 24h0m1-27h0m1 3h0m7 9h0m2-14h0m3 15h0m0 0h0m1-4h0m1-1h0m3-5h0m3 31h0m2-26h0m16 27h0m2-20h0m3-12h0m2 2h0m4 20h0m10-26h0m1 26h0m3-21h0m11 22h0m1-5h0m2-21h0m1 11h0m3 15h0m6-4h0m0 2h0m1-25h0m5 31h0m1 1h0m5-30h0m1 27h0m1-2h0m9 7h0m1-14h0m1 18h0m1-4h0m8-18h0m13-14h0m7 14h0m5-4h0m0-9h0m8 23h0m2-19h0m1-5h0m1 18h0m2 1h0m2 2h0m0-14h0m1 9h0m0 4h0m1-21h0m1 6h0m0-5h0m0 2h0m3-1h0m3 27h0m2 4h0m4-23h0m1 12h0m0-5h0m6-5h0m4-9h0m0 24h0m3 5h0m0-11h0m0 12h0m0-18h0m1 3h0m0 2h0m5 4h0m0-10h0m0 0h0m0 12h0m1-16h0m1-2h0m2-11h0m1 26h0m1 0h0m1-26h0m0 8h0m2 28h0m3-26h0m1-4h0m1 1h0m0 1h0m4 18h0m1-20h0m3 17h0m8-1h0m2 8h0m4-1h0m5-15h0m13 25h0m7 1h0m2-9h0m2-11h0m2 6h0m3-6h0m3 3h0m3 2h0m1-12h0m1-4h0m1 22h0m3-31h0m1 40h0m0-10h0m0-4h0m1-8h0m4 20h0m1-27h0m0-1h0m1 15h0m2 8h0m1 3h0m6-19h0m1-5h0m0-11h0m1 31h0m3-24h0m4 27h0m2-31h0m5 21h0m2 7h0m1-27h0m1-3h0m5 10h0m6 23h0m2-26h0m5 30h0m1-35h0m2 24h0m3-10h0m0 14h0m3-9h0m1 7h0m1 1h0m3-19h0m4 26h0m11-9h0m9 7h0m3-13h0m0 16h0m4-10h0m4 10h0m-6 39h0m-9-16h0m0-2h0m-1 7h0m-3 10h0m-4-17h0m0 5h0m-1 12h0m-3-7h0m0-15h0m-3 7h0m0 13h0m-1-23h0m-5 21h0m-7-22h0m-2-5h0m-1 13h0m-3 10h0m-3 10h0m-1-4h0m-1-8h0m0 2h0m-1-22h0m-1 28h0m-3-34h0m-1 24h0m-10 9h0m-4 4h0m-1-38h0m-1 33h0m-5-1h0m0-7h0m-3-13h0m-1 12h0m0-5h0m0 17h0m-2-1h0m-3-20h0m-1 17h0m-8 0h0m-8-12h0m0 2h0m-3-6h0m0 10h0m-1 3h0m-4-20h0m-4-6h0m-2 1h0m-2 32h0m-1-7h0m0-4h0m0 1h0m0 6h0m-1-12h0m0 10h0m-3-13h0m0 20h0m-2-32h0m-1 23h0m0-8h0m0-6h0m-1-10h0m-5 27h0m-2 4h0m-2-19h0m-1 8h0m-1 10h0m-5-7h0m0-26h0m-3 0h0m0 37h0m-7-3h0m-3-28h0m-5 1h0m0 13h0m-1-12h0m-2-6h0m-3 23h0m0-22h0m-1 19h0m-4 12h0m0 4h0m-5-27h0m-1 12h0m-3-15h0m-1 10h0m-4-14h0m-1 30h0m-2-12h0m0-21h0m-1 1h0m-2-3h0m-3 34h0m-1-20h0m0-6h0m-2-4h0m0 18h0m-2 1h0m-4 5h0m-6-2h0m-2-2h0m-4-20h0m-4 36h0m-1-33h0m-2 0h0m-2 30h0m0-4h0m-4-23h0m-6 4h0m-2 3h0m0 12h0m-1-1h0m-2-12h0m0 5h0m-4 14h0m0-24h0m-8 25h0m-1-6h0m-3-12h0m-5-17h0m-1 34h0m0 0h0m-2-12h0m-8 5h0m-2-14h0m-23 6h0m0-17h0m-6-2h0m0 20h0m-5-21h0m0 34h0m-5-13h0m-3-16h0m-1-3h0m-1 37h0m-7-37h0m-1 0h0m-5 37h0m-9-20h0m-9 13h0m-4 4h0m-11-20h0m-2 21h0m-7-24h0m0 23h0m-8-8h0m-4-7h0m-1-8h0m-7-5h0m0 18h0m-1-2h0m-1-20h0m-2 13h0m-1-13h0m0 29h0m-1-32h0m0 2h0m-2 0h0m-3 25h0m-2-21h0m-1-1h0m-1 17h0m-5 4h0m0 4h0m-1-11h0m-3-11h0m-3 12h0m-6-18h0m0 12h0m-2-5h0m-1 2h0m-4 18h0m-1 9h0m0 0h0m-5-15h0m-1-4h0m-1-18h0m-1 19h0m-7-13h0m-1 21h0m0-1h0m0-23h0m-4 4h0m0 8h0m-1-10h0m-3 31h0m-1-33h0m-3 27h0m-1-2h0m-3-5h0m-3-15h0m-6-9h0m-3 4h0m0 15h0m-1-3h0m-3 7h0m0-4h0m-1 12h0m-3-21h0m-2 20h0m-1-3h0m-1 0h0m-1 10h0m-1-37h0m0 29h0m0-7h0m-2 17h0m-2-4h0m0-27h0m-4 18h0m-2-10h0m-3 19h0m-1-2h0m-1-32h0m0 38h0m0-33h0m-1 27h0m-6-1h0m-2-16h0m-1 10h0m-2 6h0m0-10h0m-5 1h0m-2 4h0m-3 2h0m0-8h0m-2-10h0m-1 6h0m-1 0h0m0 20h0m-4-6h0m-1-26h0m-3 6h0m-1 17h0m-1-13h0m0 21h0m-4-22h0m0 16h0m-1 3h0m0-7h0m0-2h0m0-21h0m-2 18h0m-4-18h0m0 3h0m0 4h0m0-7h0m-3 2h0m-5 13h0m-2-10h0m-3 24h0m-1 6h0m-1-35h0m-5 1h0m-5 29h0m-3-32h0m-2 17h0m18 53h0m3-11h0m1 10h0m0-19h0m1-4h0m4 14h0m1 8h0m5 1h0m2 5h0m3 0h0m2-17h0m3-2h0m2-11h0m6 11h0m1-12h0m3 4h0m1 0h0m3 11h0m0-1h0m4 13h0m2-8h0m9-8h0m0-2h0m1-2h0m0-10h0m2 28h0m2-16h0m3 11h0m2-13h0m1-10h0m0 35h0m5-28h0m1 25h0m1-18h0m2 10h0m3-23h0m4 22h0m3-5h0m0-1h0m6-2h0m4-2h0m0 4h0m1 1h0m4-3h0m0-1h0m1 24h0m1-40h0m1 30h0m4 4h0m1-17h0m0-4h0m2 12h0m12 11h0m1 4h0m3-15h0m0-4h0m2 18h0m2-10h0m1 0h0m0-25h0m9 13h0m2-4h0m3 23h0m0-29h0m1 29h0m0-21h0m1-14h0m2 3h0m1 27h0m1-7h0m18 2h0m0-14h0m6 21h0m3 5h0m6-28h0m3 13h0m1 8h0m2-14h0m3 9h0m2-24h0m2 25h0m3-22h0m0 21h0m4 8h0m5-14h0m4-11h0m6 15h0m3-7h0m1-3h0m1 23h0m2-13h0m1 12h0m1 2h0m2-2h0m2-9h0m3-22h0m4 11h0m1-7h0m15 12h0m3-5h0m1-16h0m0 19h0m1-12h0m7-2h0m3 0h0m8 3h0m2-6h0m4 30h0m5-14h0m1 1h0m1 8h0m5-25h0m1 22h0m6-16h0m0 25h0m2-6h0m2 4h0m1-16h0m3-5h0m8-8h0m1 25h0m1-12h0m20 25h0m3-38h0m1 26h0m1-10h0m2 0h0m0-12h0m0 7h0m5 14h0m2 9h0m1-8h0m0-17h0m2-8h0m3 35h0m0-11h0m3-17h0m6 17h0m1-22h0m1 20h0m1-5h0m0-1h0m1 1h0m1-16h0m3 12h0m9-5h0m2-10h0m5 15h0m2 3h0m2 2h0m2 2h0m1-21h0m3 14h0m3 23h0m5-22h0m6 9h0m6 11h0m1-14h0m2-11h0m6-2h0m4 27h0m2-25h0m2 19h0m5-26h0m1 6h0m1 23h0m8-20h0m9-11h0m6 27h0m1 5h0m0-18h0m10-17h0m0 17h0m1 16h0m1-21h0m4 12h0m2-18h0m2-3h0m2 16h0m13 16h0m1 1h0m2-18h0m0 3h0m1 18h0m2-36h0m0 11h0m8 17h0m0-24h0m3 21h0m1 11h0m0-10h0m4-1h0m3-4h0m5-6h0m0 9h0m1-18h0m1 22h0m1-14h0m2-7h0m3 28h0m0-24h0m2 0h0m2-5h0m3 16h0m2-16h0m11 21h0m2-28h0m1 25h0m12-22h0m-19 54h0m-1 6h0m-4-14h0m-7 3h0m-14-7h0m-2 7h0m-2-11h0m-3 6h0m0 9h0m0-13h0m-3 8h0m0 12h0m-5-8h0m-3-12h0m-6 10h0m-3 20h0m-3-17h0m-6-17h0m-1 9h0m-2 3h0m-1 27h0m-1-31h0m-1 24h0m-1-5h0m0 1h0m0-19h0m-8 26h0m0-31h0m-4 27h0m-5-9h0m-5-12h0m-5 5h0m-2 23h0m-2-37h0m-10 3h0m-3 24h0m-1-20h0m-1 9h0m-2-14h0m-2 34h0m0-35h0m-1 36h0m-3-6h0m-1 4h0m-4-34h0m-3 15h0m-4-5h0m-1 23h0m-2 2h0m-3-26h0m-1 12h0m-2-21h0m-4 7h0m-3 14h0m-1-13h0m-10 14h0m-8-24h0m-1 6h0m-1 10h0m-2 5h0m-1-4h0m-1-15h0m-1 30h0m-1-32h0m-6 37h0m0-34h0m-13 10h0m-2-10h0m-1 9h0m0 12h0m0 5h0m0-19h0m-3 6h0m-7 14h0m-5-24h0m-4 31h0m-2-18h0m-1 1h0m-4 11h0m0 0h0m-4-3h0m-4-19h0m-1 15h0m-1-20h0m-2 33h0m-2-28h0m-1 0h0m-1 11h0m-6-18h0m0 15h0m-8 3h0m-1-17h0m-13 5h0m-2 25h0m-3-21h0m-15-1h0m-5-3h0m-1 29h0m-3-17h0m-3 10h0m-2-8h0m-6-11h0m-3-4h0m-2 6h0m-2 9h0m-1 1h0m-3 4h0m-4-15h0m-6 7h0m-5-4h0m-4 18h0m-3-19h0m-7-12h0m-6 0h0m-4 27h0m-2-29h0m-1 22h0m-1 14h0m-4-36h0m-3 2h0m-2 4h0m-1 9h0m0 18h0m-1-5h0m0-23h0m-7 6h0m-2-8h0m0 19h0m-2 7h0m-1-27h0m-3 13h0m-5-1h0m-5-3h0m-2 28h0m-4-21h0m-4-14h0m-1 29h0m-4-5h0m-1-6h0m-4-18h0m-6 10h0m-5 14h0m0 2h0m-1-25h0m-4 34h0m-4-19h0m-1-8h0m-1-11h0m0 0h0m-4 31h0m0 0h0m-3-2h0m-4-1h0m0-21h0m0 2h0m-2 20h0m-1 0h0m0 8h0m-3-6h0m-1-7h0m-2 5h0m-4-17h0m-1 1h0m0 1h0m-8 16h0m-7-15h0m0-4h0m-2 2h0m-4 12h0m0-13h0m-3-10h0m-3 26h0m-2-8h0m-4-5h0m-6-3h0m-2-6h0m-1-4h0m-6 2h0m-7-4h0m-16 33h0m-7-6h0m0 10h0m-8-17h0m-1 26h0m2 6h0m2-4h0m5 16h0m1-12h0m5-9h0m7 25h0m1-5h0m0-13h0m4 23h0m0-18h0m1 7h0m3-20h0m2 24h0m1 11h0m6-13h0m1 7h0m9-8h0m0-7h0m2-10h0m3 30h0m5-8h0m1-3h0m4-3h0m4-6h0m13-4h0m3-11h0m2 26h0m3-29h0m3 2h0m6 27h0m9-13h0m4-1h0m4 13h0m5-19h0m12-9h0m3 6h0m1 7h0m5-5h0m8 7h0m5-6h0m2 29h0m1-9h0m0-9h0m1 5h0m2-23h0m1 16h0m6-16h0m0 19h0m3-15h0m5-1h0m1 6h0m1-10h0m36 0h0m62 7h0m8-1h0m45 1h0m14-6h0m36 21h0m2-2h0m3-3h0m2 4h0m6-20h0m0 12h0m8-10h0m1-4h0m0 12h0m6 0h0m2-9h0m2 12h0m0-10h0m3 32h0m3-23h0m2-12h0m1 36h0m6-34h0m2 5h0m3 12h0m8-19h0m0 3h0m4 35h0m10-23h0m4-10h0m6 20h0m2-20h0m0 30h0m5-19h0m4-1h0m2-8h0m0 14h0m2 9h0m0-25h0m1-6h0m7 21h0m8 13h0m0-34h0m5 29h0m2-1h0m5-11h0m5-7h0m2 14h0m3 10h0m10-34h0m1 2h0m1 36h0m1-35h0m2 13h0m1 16h0m3 1h0m5-18h0m3-3h0m10 0h0m-43 28h0m-7 1h0m-4 3h0m-24 24h0m-8 1h0m-4 2h0m-5-16h0m0-6h0m-1 15h0m-1-10h0m0-9h0m-4 18h0m-7-2h0m-1-13h0m-1 4h0m0 23h0m-1 0h0m-2-6h0m-1 1h0m0-23h0m-2 26h0m-3 2h0m-1-24h0m-1 13h0m-5 9h0m-4-10h0m-6 4h0m-6-23h0m-4 0h0m-4 6h0m-1 2h0m-1-9h0m-2 33h0m-20-30h0m-3 11h0m-277 18h0m-7-1h0m-1-32h0m-5 12h0m-3 8h0m-1-10h0m-2 5h0m-1 8h0m-3-14h0m-4 2h0m-5-8h0m-1 23h0m0-2h0m-4 9h0m-1-32h0m-11 5h0m-1-4h0m-15 10h0m0 19h0m-3 3h0m-2 0h0m-1-30h0m-2 18h0m-2-14h0m0 13h0m-3-21h0m-7 9h0m2 41h0m8 8h0m1-8h0m2-11h0m2 1h0m5 35h0m6-34h0m2 29h0m1-11h0m5-6h0m0 8h0m0-23h0m2 21h0m4 16h0m6-23h0m4 22h0m0-33h0m4 17h0m2-5h0m5 22h0m1-28h0m2 10h0m1-4h0m0 7h0m4-4h0m4 5h0m2-8h0m2 13h0m0 3h0m4-29h0m4 30h0m280-30h0m25 2h0m5 4h0m1-5h0m9-2h0m3 8h0m56 5h0m-373 48h0m-3-18h0m-1 20h0m-2-25h0m-2 4h0m-3 20h0m-2 11h0m-1-12h0m-3-5h0m-3-4h0m-2 13h0m-2-16h0m-1-11h0m-2 21h0m-1 7h0m-3-17h0m-3 19h0m-5-2h0m-8-18h0m-2 27h0m0-15h0m-1-21h0m0 25h0m-1-12h0m-2-4h0m-1-7h0m-1 19h0m-3-21h0m-6 29h0m-5-1h0m-3-27h0m-1 26h0m0-7h0m8 37h0m5-13h0m2 14h0m6-8h0m0 18h0m2-19h0m2 0h0m1-6h0m0 6h0m1 0h0m1 16h0m1-11h0m4-8h0m4 10h0m1-6h0m0 21h0m1 2h0m11-19h0m2 14h0m0-14h0m3-6h0m1 10h0m1 3h0m8 15h0m11 31h0m-5 9h0m-3-24h0m-3 24h0m0-6h0m-5-10h0m-2 17h0m-6-34h0m-1 13h0m-3 6h0m-1 15h0m-3-22h0m0 15h0m-1-7h0m-2 9h0m-1-20h0m0 21h0m-1 1h0m-2-2h0m-1-31h0m-1 29h0m-1-18h0m-5 12h0m-6-24h0m-2 3h0m-4-1h0m12 57h0m1-20h0m1 8h0m12 15h0m0-18h0m1 16h0m1 15h0m3-7h0m1-3h0m0-23h0m2 13h0m2-2h0m8 13h0m1-12h0m1-12h0m0 34h0m1-27h0m0 8h0m4-11h0m2 18h0m16-20h0m2 13h0m1 3h0m2 46h0m-7-10h0m-3 6h0m-1-17h0m-11 2h0m-2 1h0m0-3h0m0 5h0m-6-10h0m-10 11h0m-5 6h0" stroke="#e0e0e0" stroke-width="11.5" stroke-linecap="round" fill="none" opacity="1" /></g></defs>
<text x="309.3" y="167.9" font-size="6.6" fill="#222" text-anchor="middle" stroke="#222" stroke-width="0.16" >NK-DMSO</text>
<use href="#gm" x="275" y="176"/>
<path transform="scale(0.1)" d="M2979 1773h0m11 6h0m26 23h0m-11-2h0m-3 9h0m-1-21h0m0-2h0m-11 18h0m-2-23h0m-18 25h0m-6-4h0m-8-1h0m-3 0h0m0-10h0m-4 8h0m-2 8h0m-7 5h0m-48 36h0m2-5h0m0 16h0m12-14h0m1-3h0m17 1h0m6-7h0m6 23h0m7-32h0m1 6h0m3 15h0m3-20h0m1 18h0m1-19h0m1-3h0m5-3h0m16 2h0m9 29h0m14 6h0m7-28h0m4-2h0m10-6h0m15 18h0m7 49h0m-17-3h0m-3 10h0m-8 0h0m-15-25h0m-1 5h0m-9 17h0m-2-31h0m-8 12h0m-8 0h0m-7 11h0m-1 6h0m-8 5h0m-18-24h0m-2-5h0m-8 25h0m-2 5h0m-13-1h0m-2-20h0m-21 10h0m-10-8h0m0-7h0m-5 14h0m-5 5h0m0-10h0m-3 11h0m-14 5h0m-2-19h0m0 0h0m0 10h0m-2 5h0m-20 0h0m-26 24h0m15 8h0m11 15h0m2-3h0m3 2h0m5-29h0m12 20h0m21-11h0m2 0h0m3-5h0m18 6h0m15 15h0m9 3h0m7-24h0m4-2h0m2 8h0m11 15h0m4-22h0m6 27h0m13-1h0m8-27h0m20-1h0m10-8h0m27 11h0m3 10h0m5 6h0m1 2h0m4-4h0m15 7h0m55 32h0m-13 4h0m-11-26h0m-28 0h0m-9 28h0m-12 5h0m-24-23h0m-4-10h0m-22 3h0m-4 9h0m-1 12h0m-3-15h0m-1 3h0m-32-11h0m-1 28h0m-6 0h0m-11-17h0m-3 20h0m-3-13h0m-9 6h0m-11 6h0m0-26h0m-2-8h0m-10 14h0m-11 0h0m-1 8h0m-6-11h0m-1 10h0m-3 14h0m-2-12h0m-1 0h0m-3 9h0m-9-12h0m0 13h0m-1-20h0m-3-3h0m-2-7h0m-3 18h0m-2-21h0m-14 3h0m-4 10h0m-9 24h0m-2-36h0m-6 6h0m-7 26h0m-7-16h0m-12 6h0m-1-12h0m-3-4h0m-12 57h0m3 1h0m3-22h0m2 0h0m3 16h0m4-12h0m6 25h0m2 6h0m10-25h0m5 23h0m9-10h0m2-22h0m1 9h0m23-3h0m9 16h0m1-9h0m4 18h0m1-33h0m5 27h0m6-19h0m13 8h0m10 2h0m1 16h0m26-4h0m3-7h0m14 3h0m51-29h0m13 37h0m29-35h0m4 24h0m5-21h0m4 5h0m30 13h0m2-6h0m6-3h0m12 1h0m2 9h0m15 0h0m2-8h0m2 13h0m4-25h0m0 21h0m2-17h0m13 8h0m15 21h0m11 2h0m13 36h0m0 3h0m-18-3h0m-13-18h0m-7-3h0m-18 16h0m-6-25h0m-24 9h0m0 19h0m0-10h0m-11 5h0m-16-18h0m-10 24h0m-14 0h0m-2-27h0m-3 15h0m-3 3h0m-11-25h0m-2 3h0m-15 36h0m-21-18h0m-12-9h0m-1 16h0m-4-27h0m-9 24h0m-9 5h0m-11-24h0m-1 32h0m0-22h0m-7-8h0m-7 3h0m-10-7h0m0 11h0m-3-9h0m-7-5h0m-1 15h0m-21-9h0m0 16h0m-16 7h0m-6-17h0m-1 8h0m-1-17h0m-3 18h0m-3-20h0m-4 15h0m-19 1h0m-2 3h0m-7 13h0m-17-26h0m-5 10h0m-6-18h0m-6 26h0m-10-4h0m-3 48h0m36-10h0m1-3h0m2-14h0m1 22h0m4-11h0m11 24h0m1-34h0m20 27h0m9-22h0m5 10h0m11 6h0m9-5h0m6 10h0m7-20h0m2 0h0m4 7h0m8 1h0m7-17h0m2 24h0m2 11h0m4-9h0m6-4h0m3-3h0m6 10h0m38-27h0m1 3h0m12 10h0m8 21h0m2-26h0m1 10h0m40 9h0m0-23h0m11 22h0m7 0h0m17-27h0m1 2h0m12 18h0m2 14h0m5-30h0m28 8h0m14 9h0m17-10h0m20 4h0m5 9h0m3-19h0m-8 42h0m-5-4h0m-3 18h0m-6 11h0m-25-17h0m-1 13h0m-4-11h0m-37 16h0m0 0h0m-2-12h0m-6-19h0m-18 24h0m-15-7h0m-1 9h0m-4-30h0m-5 21h0m-27-2h0m-9 13h0m-17 5h0m-7-24h0m-9 1h0m-3 7h0m-8 5h0m-8 12h0m0-35h0m-5 22h0m-7 6h0m-7-23h0m0 13h0m-8-11h0m-6 29h0m0 0h0m-6-19h0m-1-18h0m-9 3h0m-5 2h0m-7 25h0m-7-22h0m-1 8h0m-5-17h0m-4 16h0m-9 14h0m-4-30h0m0 29h0m-2 10h0m-2-4h0m-9 0h0m-2 4h0m-3-25h0m-14 9h0m-5 6h0m-2-18h0m-2 6h0m-5-12h0m-10-2h0m-19 29h0m5 19h0m1-4h0m17 11h0m12-2h0m1 8h0m6-6h0m18 11h0m11-30h0m2 16h0m20 1h0m4 2h0m27 17h0m4-11h0m5-21h0m9 13h0m6 19h0m0-21h0m1-14h0m2 32h0m8-4h0m18-22h0m6 24h0m6-8h0m3-6h0m5-8h0m5-4h0m19 19h0m3-7h0m4 7h0m13-8h0m50 2h0m7-16h0m7 6h0m0 25h0m2-6h0m2 4h0m3-1h0m11-15h0m23-13h0m17 25h0m12-8h0m169-9h0m-181 55h0m0-14h0m-13-8h0m-2 4h0m-6 13h0m-10 1h0m-74-3h0m-46-15h0m-2 11h0m-3-11h0m-18 13h0m-26-4h0m-17 3h0m-19 25h0m-4-19h0m-1 5h0m-1-24h0m0 0h0m-4 31h0m-7-3h0m0-21h0m-3 30h0m-1-29h0m-10 6h0m-8 10h0m-13-12h0m-31-12h0m-3 0h0m51 41h0m10-1h0m7 2h0m4 2h0m4 10h0m4-1h0m24-9h0m32-4h0m8 3h0m1 6h0m288-4h0m48 18h0m-492 18h0m28 160h0" stroke="#dc4c44" stroke-width="11.5" stroke-linecap="round" fill="none" opacity="0.88" />
<text x="390.3" y="167.9" font-size="6.6" fill="#222" text-anchor="middle" stroke="#222" stroke-width="0.16" >NK-K562-DMSO</text>
<use href="#gm" x="356" y="176"/>
<path transform="scale(0.1)" d="M3810 1872h0m-149 32h0m204 27h0m34 41h0m-140-5h0m-4 0h0m-47 5h0m-66-5h0m35 38h0m68-17h0m132 7h0m31-9h0m28 17h0m2-7h0m15 21h0m173 40h0m-48-11h0m-20 14h0m-35-22h0m-11 9h0m-9 1h0m-2 2h0m-23-9h0m-14 1h0m-43-10h0m-30 2h0m-22 14h0m-295-6h0m30 58h0m131-17h0m137-18h0m5 26h0m71 1h0m7-7h0m10 5h0m3-12h0m1 3h0m2 10h0m3-4h0m2-16h0m5-3h0m2 28h0m4-30h0m1 2h0m8 15h0m39 17h0m4-20h0m5 0h0m7-7h0m6 27h0m0-10h0m0-4h0m5 12h0m4-27h0m27-9h0m19 2h0m3 29h0m25-4h0m12-6h0m0 16h0m8 0h0m-16 28h0m-3 10h0m-4-12h0m-4 5h0m-3 5h0m-7-4h0m-6-20h0m-30-4h0m-1 31h0m-1-38h0m-2 1h0m-4 31h0m0-7h0m-9-10h0m-9 17h0m-12-3h0m-8-26h0m-5 23h0m-1 4h0m-1-19h0m-2 6h0m-3 11h0m-1-24h0m-7 31h0m-2 0h0m-2-1h0m-11-17h0m-15-14h0m-21 23h0m-2 9h0m-2-33h0m-9 2h0m-110 30h0m-172 26h0m57-7h0m199 27h0m5-22h0m54 5h0m12-6h0m6 9h0m19 11h0m10-26h0m18-8h0m19 9h0m4 12h0m18-1h0m2 13h0m2-15h0m3-7h0m4 17h0m4 0h0m0-24h0m2 13h0m2 19h0m7-15h0m6-15h0m1 22h0m3-21h0m2 2h0m1 2h0m7 11h0m4 26h0m-7 3h0m-7-10h0m-4 11h0m-2-8h0m-3 7h0m-2-11h0m-11 14h0m-1-2h0m-2-10h0m-6 10h0m-16 25h0m-11-4h0m-23-34h0m-19 1h0m-9 0h0m-8 33h0m-5-24h0m-12 24h0m-9-11h0m-8-24h0m-2 16h0m-4-14h0m-8 35h0m-29-35h0m-2 14h0m-28 12h0m-14-25h0m-199 27h0m281 32h0m0-2h0m5-3h0m2 4h0m6-20h0m17 1h0m2 2h0m5 30h0m21-3h0m6 8h0m8-11h0m15 1h0m10-21h0m2 23h0m16 3h0m12-17h0m7 7h0m3 10h0m10-33h0m1 1h0m2 6h0m3 24h0m3 1h0m-5 13h0m-20-6h0m-7 1h0m-20 27h0m-27-23h0m-4 18h0m-1 3h0m-6-5h0m-1-13h0m-2 27h0m-25-8h0m-9 4h0m-1-27h0m-4 6h0m-4 26h0m-14 1h0m24 11h0m69 6h0" stroke="#dc4c44" stroke-width="11.5" stroke-linecap="round" fill="none" opacity="0.88" />
<text x="474.3" y="167.9" font-size="6.6" fill="#222" text-anchor="middle" stroke="#222" stroke-width="0.16" >Birinapant-NK-K562</text>
<use href="#gm" x="440" y="176"/>
<path transform="scale(0.1)" d="M4704 1931h0m-217 28h0m-62 45h0m6-8h0m324-14h0m183 74h0m-3-23h0m-75 10h0m-62 13h0m-7-4h0m-33-3h0m-3-24h0m24 46h0m29 24h0m6-18h0m14-9h0m16 14h0m11-8h0m6-9h0m18 15h0m11 5h0m3 6h0m11-6h0m10-24h0m10 3h0m22 5h0m5 30h0m6-21h0m8-6h0m27 27h0m4-10h0m-11 31h0m-3 6h0m-5-1h0m-7 10h0m-46-5h0m-9-6h0m-14 8h0m-16-23h0m-9 20h0m0-3h0m-6-21h0m-7 26h0m-6 3h0m-23-26h0m-7 15h0m-17 3h0m-5-23h0m-8 19h0m-293 57h0m149-25h0m17-5h0m138 7h0m23-14h0m48 10h0m33 5h0m39-11h0m3 22h0m5 0h0m16-14h0m35-9h0m-20 60h0m-8 3h0m-17-21h0m-7-2h0m-3 20h0m-14-10h0m-36 8h0m-14-21h0m-15 16h0m-15-12h0m-40-5h0m-4 21h0m-52 10h0m-4-3h0m-190-24h0m275 38h0m2 2h0m3 32h0m1-27h0m51 20h0m10-21h0m5 23h0m5-10h0m8 13h0m5-5h0m12-19h0m42 2h0m-70 56h0m-27-14h0m-13 21h0m-3-6h0m-33-25h0m-8 32h0m10 4h0" stroke="#dc4c44" stroke-width="11.5" stroke-linecap="round" fill="none" opacity="0.88" />
<text x="309.3" y="269.1" font-size="6.6" fill="#222" text-anchor="middle" stroke="#222" stroke-width="0.16" >Imatinib-NK-K562</text>
<use href="#gm" x="275" y="277"/>
<path transform="scale(0.1)" d="M3072 2935h0m-19-27h0m-147 15h0m-43 8h0m86 46h0m142 0h0m13 37h0m-29-1h0m-7 0h0m-137-30h0m162 74h0m30-10h0m8-19h0m4 31h0m33-8h0m100 5h0m39 37h0m0-5h0m-19-6h0m0-16h0m-6 9h0m-34-5h0m0 18h0m-1 12h0m-1-30h0m-4 9h0m-2 16h0m-2-4h0m-9-1h0m-10-24h0m-33 27h0m-14-16h0m-3-11h0m-2 2h0m-35 8h0m0-2h0m-21-14h0m-69 34h0m-63-8h0m82 18h0m18 6h0m1-4h0m53 28h0m16-10h0m6-11h0m1-1h0m21 21h0m7-2h0m0-13h0m5-1h0m10-6h0m3 26h0m7-11h0m9-12h0m7 26h0m0-10h0m1 9h0m1-38h0m13 35h0m3-35h0m12 8h0m2-3h0m3 19h0m5-23h0m0 27h0m0 5h0m4 1h0m8-18h0m14-6h0m7 0h0m3 2h0m6 8h0m5-20h0m7 21h0m0-14h0m4 32h0m12-10h0m12 22h0m-16-5h0m-7 15h0m-7 15h0m-23-32h0m-4 23h0m-6-21h0m-10 22h0m0-26h0m-4 13h0m-1-14h0m-10 0h0m-7 25h0m-1 13h0m0-38h0m-22 20h0m-3-7h0m-13 5h0m-2-15h0m-31 28h0m-6-7h0m-7-12h0m-3 26h0m-7-7h0m-4-4h0m0 1h0m-9-10h0m-16 3h0m0 5h0m-78-13h0m-10 2h0m-246 24h0m39 17h0m44 0h0m3 20h0m130-32h0m89 25h0m12 8h0m15-12h0m15-4h0m22-12h0m2 2h0m1 15h0m3-1h0m1-10h0m16-7h0m3 11h0m22-5h0m2-3h0m13 15h0m2-24h0m24 1h0m3 28h0m24-22h0m9-5h0m37 2h0m-12 43h0m-20 17h0m-5 11h0m0-34h0m-15-2h0m-7 8h0m-3 22h0m0-14h0m-2 8h0m-1-25h0m-11 21h0m-23-11h0m-8 19h0m-14-7h0m-16-18h0m-9 18h0m-6 8h0m-5-1h0m-2 0h0m0 2h0m-17-16h0m-27-9h0m-51 9h0m-32-16h0m124 67h0m27-7h0m11-14h0m6 1h0m20 32h0m3-17h0m8 14h0m14-30h0m16-5h0m2 37h0m12-31h0m4 7h0m4-3h0m32-8h0m-52 44h0m-40-2h0m-9 0h0m-24-3h0m-3 15h0" stroke="#dc4c44" stroke-width="11.5" stroke-linecap="round" fill="none" opacity="0.88" />
<text x="390.3" y="269.1" font-size="6.6" fill="#222" text-anchor="middle" stroke="#222" stroke-width="0.16" >Dasatinib-NK-K562</text>
<use href="#gm" x="356" y="277"/>
<path transform="scale(0.1)" d="M3779 2812h0m47 0h0m-4 41h0m-13-18h0m-2 1h0m-13-13h0m-8 0h0m-24 14h0m-4 10h0m-41 5h0m-59 35h0m3-10h0m15 18h0m1-5h0m5 5h0m5-7h0m0-1h0m10 9h0m1-22h0m2 18h0m19-8h0m24-7h0m7 22h0m4-9h0m56-8h0m43 27h0m-7 30h0m-24-33h0m-13 13h0m-12-16h0m-2 20h0m-7 0h0m-34-1h0m0 14h0m-1-24h0m-21-7h0m-5 6h0m-9 16h0m-8-4h0m-1-14h0m-5 4h0m-2 16h0m-10-8h0m0-9h0m-4-4h0m-15 9h0m-13-11h0m-21-5h0m-9 35h0m-33 36h0m7-5h0m16-13h0m2 16h0m13-6h0m4-10h0m3 23h0m6-17h0m5-9h0m1-5h0m2 1h0m2 19h0m2-5h0m9 4h0m2 3h0m7 1h0m17 7h0m13-23h0m0-11h0m9 31h0m8 6h0m1-32h0m1 32h0m1 0h0m10-36h0m3 14h0m6-13h0m4 9h0m9-4h0m6 7h0m3 22h0m4-30h0m8 22h0m1-15h0m11 23h0m23-25h0m8 11h0m27-4h0m22-7h0m24 6h0m6 15h0m33 39h0m-28-33h0m-38 5h0m-3 5h0m-7-8h0m-5 29h0m-2 0h0m-20-11h0m-6 12h0m-27-28h0m-50 17h0m0-15h0m-1 12h0m-6 6h0m-10-8h0m-9-12h0m-10-4h0m-3 37h0m-11-20h0m-2-6h0m-3 6h0m-12-17h0m0 18h0m-1-16h0m-3 4h0m0 8h0m-4 7h0m-1-3h0m-13-4h0m-1 2h0m0 12h0m-1 4h0m0-4h0m-21-2h0m-1-25h0m-14 36h0m-6-15h0m-8 2h0m-18-23h0m-1 37h0m-7-5h0m-15 10h0m11 14h0m1-15h0m16 28h0m45-7h0m2-16h0m2 2h0m1 18h0m1 1h0m1-12h0m2-4h0m3 22h0m0-2h0m4-1h0m7 9h0m1-18h0m9-14h0m11-7h0m3 6h0m14 4h0m12 18h0m23-28h0m24 13h0m3-8h0m7-1h0m9-4h0m13 9h0m6 2h0m13 8h0m16-8h0m16 23h0m20-15h0m15 5h0m4 10h0m5-34h0m15 36h0m12-24h0m64 63h0m-1-26h0m-1-5h0m-9 29h0m-28 0h0m0-4h0m-3 3h0m-42-17h0m-7 16h0m-33-8h0m-4 15h0m-14-1h0m-33-28h0m-4-10h0m-16 25h0m-31-17h0m-2 28h0m-22-3h0m-1-4h0m-2-22h0m-12 2h0m-10-2h0m-1 26h0m-9-13h0m-16-1h0m-7-13h0m-9 34h0m-4-30h0m-15 27h0m-20 0h0m-8-13h0m-7-8h0m-1 7h0m-13-7h0m-18 14h0m-4 15h0m29 9h0m0 3h0m4 15h0m2 5h0m7-15h0m8 6h0m1 0h0m3 4h0m0 8h0m9-26h0m3 23h0m1-10h0m24-16h0m16-4h0m3 1h0m4-2h0m14 11h0m5-2h0m8 16h0m1-19h0m15 13h0m13 6h0m12-18h0m8 5h0m1 2h0m0-18h0m10 22h0m0 14h0m9-15h0m9 3h0m6-19h0m61 6h0m12-10h0m7-2h0m19 35h0m3-8h0m12-7h0m15-1h0m31 12h0m11-26h0m11 45h0m-19 26h0m-27-9h0m-3-25h0m-37 29h0m-71 5h0m-18-26h0m-1 8h0m-1-13h0m-12 9h0m-3 22h0m-5-31h0m-5-4h0m-18 34h0m-20-22h0m-4 3h0m-14-8h0m0 5h0m-21 21h0m-14-5h0m-18-17h0m-5 3h0m-10 19h0m-4-31h0m-23 15h0m-17 6h0m-17 6h0m17 15h0m55 3h0m23 9h0m7 2h0m17 11h0m2-21h0m27-9h0m5 28h0m20-26h0m2 11h0m11-13h0m22 12h0m12-11h0m21 3h0m8 17h0m15-3h0m95-11h0m0 27h0m-10 6h0m-9 7h0m-49 9h0m-72-13h0m-38 11h0m-15-3h0m-38-11h0m-2 18h0m-5 19h0m-17 1h0m-1-38h0m0 8h0m-3-6h0m-7 15h0m-3-5h0m-3 11h0m-58 37h0m17-18h0m113 22h0m-65 86h0m8-17h0" stroke="#dc4c44" stroke-width="11.5" stroke-linecap="round" fill="none" opacity="0.88" />
<text x="474.3" y="269.1" font-size="6.6" fill="#222" text-anchor="middle" stroke="#222" stroke-width="0.16" >Dexamethasone-NK-K562</text>
<use href="#gm" x="440" y="277"/>
<path transform="scale(0.1)" d="M4517 2900h0m-4 31h0m-37-29h0m84 62h0m-95 87h0m25-19h0m214 8h0m34 48h0m-195 5h0m-19-16h0m-36 35h0m94 96h0m-46 51h0m-38 68h0m-1-2h0m-29-18h0m43 54h0m3 17h0m20-24h0m16 11h0m-21 20h0m-3 27h0m-29 4h0m-3-16h0m-2 0h0m-2 1h0m-13 7h0m9 25h0m10-9h0m2 31h0m5-12h0m2-11h0m4 11h0m8 0h0m0 10h0m4 1h0m0-20h0m5 0h0m0 17h0m6 3h0m2-27h0m3 16h0m8 15h0m13 33h0m-1-3h0m-23-21h0m-1 13h0m-1-7h0m-2 24h0m-8-13h0m0 11h0m0-18h0m-2 9h0m-2-13h0m0 23h0m-1 3h0m-1-31h0m-3 23h0m0-30h0m-3 18h0m-1-15h0m-1 1h0m-9 5h0m13 36h0m2 0h0m1 22h0m5-6h0m4-9h0m6-2h0m2-4h0m4 14h0m0-2h0m6-1h0m7-2h0m1 17h0m3-6h0m1-22h0m2 22h0m4 10h0" stroke="#dc4c44" stroke-width="11.5" stroke-linecap="round" fill="none" opacity="0.88" />
<circle cx="364.2" cy="361.2" r="2.7" fill="#d8d8d8"/>
<text x="370.8" y="363.4" font-size="6.4" fill="#333" text-anchor="start" stroke="#333" stroke-width="0.16" textLength="18.4" lengthAdjust="spacingAndGlyphs">FALSE</text>
<circle cx="402.1" cy="361.2" r="2.9" fill="#d84a3a"/>
<text x="409.2" y="363.4" font-size="6.4" fill="#333" text-anchor="start" stroke="#333" stroke-width="0.16" textLength="15.9" lengthAdjust="spacingAndGlyphs">TRUE</text>
<rect x="39.90" y="409.20" width="16.1" height="210.40" fill="#e2040a"/>
<rect x="39.90" y="503.88" width="16.1" height="115.72" fill="#93465c"/>
<rect x="39.90" y="605.50" width="16.1" height="14.10" fill="#2a6fbc"/>
<rect x="39.90" y="608.03" width="16.1" height="11.57" fill="#138a88"/>
<rect x="39.90" y="608.03" width="16.1" height="11.57" fill="#2fae66"/>
<rect x="57.83" y="409.20" width="16.1" height="210.40" fill="#e2040a"/>
<rect x="57.83" y="484.94" width="16.1" height="134.66" fill="#93465c"/>
<rect x="57.83" y="613.08" width="16.1" height="6.52" fill="#2a6fbc"/>
<rect x="57.83" y="613.08" width="16.1" height="6.52" fill="#138a88"/>
<rect x="57.83" y="613.08" width="16.1" height="6.52" fill="#2fae66"/>
<rect x="75.76" y="409.20" width="16.1" height="210.40" fill="#e2040a"/>
<rect x="75.76" y="493.99" width="16.1" height="125.61" fill="#93465c"/>
<rect x="75.76" y="606.24" width="16.1" height="13.36" fill="#2a6fbc"/>
<rect x="75.76" y="607.50" width="16.1" height="12.10" fill="#138a88"/>
<rect x="75.76" y="607.50" width="16.1" height="12.10" fill="#2fae66"/>
<rect x="93.69" y="409.20" width="16.1" height="210.40" fill="#e2040a"/>
<rect x="93.69" y="517.77" width="16.1" height="101.83" fill="#93465c"/>
<rect x="93.69" y="607.50" width="16.1" height="12.10" fill="#2a6fbc"/>
<rect x="93.69" y="611.50" width="16.1" height="8.10" fill="#138a88"/>
<rect x="93.69" y="611.50" width="16.1" height="8.10" fill="#2fae66"/>
<rect x="111.62" y="409.20" width="16.1" height="210.40" fill="#e2040a"/>
<rect x="111.62" y="517.35" width="16.1" height="102.25" fill="#93465c"/>
<rect x="111.62" y="605.92" width="16.1" height="13.68" fill="#2a6fbc"/>
<rect x="111.62" y="606.24" width="16.1" height="13.36" fill="#138a88"/>
<rect x="111.62" y="606.24" width="16.1" height="13.36" fill="#2fae66"/>
<rect x="129.55" y="409.20" width="16.1" height="210.40" fill="#e2040a"/>
<rect x="129.55" y="436.34" width="16.1" height="183.26" fill="#93465c"/>
<rect x="129.55" y="452.54" width="16.1" height="167.06" fill="#2a6fbc"/>
<rect x="129.55" y="452.54" width="16.1" height="167.06" fill="#138a88"/>
<rect x="129.55" y="613.71" width="16.1" height="5.89" fill="#2fae66"/>
<rect x="147.48" y="409.20" width="16.1" height="210.40" fill="#e2040a"/>
<rect x="147.48" y="516.08" width="16.1" height="103.52" fill="#93465c"/>
<rect x="147.48" y="605.08" width="16.1" height="14.52" fill="#2a6fbc"/>
<rect x="147.48" y="605.08" width="16.1" height="14.52" fill="#138a88"/>
<rect x="147.48" y="605.08" width="16.1" height="14.52" fill="#2fae66"/>
<rect x="165.41" y="409.20" width="16.1" height="210.40" fill="#e2040a"/>
<rect x="165.41" y="416.35" width="16.1" height="203.25" fill="#93465c"/>
<rect x="165.41" y="450.02" width="16.1" height="169.58" fill="#2a6fbc"/>
<rect x="165.41" y="612.45" width="16.1" height="7.15" fill="#138a88"/>
<rect x="165.41" y="612.45" width="16.1" height="7.15" fill="#2fae66"/>
<rect x="183.34" y="409.20" width="16.1" height="210.40" fill="#e2040a"/>
<rect x="183.34" y="416.35" width="16.1" height="203.25" fill="#93465c"/>
<rect x="183.34" y="447.91" width="16.1" height="171.69" fill="#2a6fbc"/>
<rect x="183.34" y="616.23" width="16.1" height="3.37" fill="#138a88"/>
<rect x="183.34" y="616.23" width="16.1" height="3.37" fill="#2fae66"/>
<rect x="201.27" y="409.20" width="16.1" height="210.40" fill="#e2040a"/>
<rect x="201.27" y="422.46" width="16.1" height="197.14" fill="#93465c"/>
<rect x="201.27" y="450.02" width="16.1" height="169.58" fill="#2a6fbc"/>
<rect x="201.27" y="616.76" width="16.1" height="2.84" fill="#138a88"/>
<rect x="201.27" y="616.76" width="16.1" height="2.84" fill="#2fae66"/>
<rect x="219.20" y="409.20" width="16.1" height="210.40" fill="#e2040a"/>
<rect x="219.20" y="419.93" width="16.1" height="199.67" fill="#93465c"/>
<rect x="219.20" y="458.01" width="16.1" height="161.59" fill="#2a6fbc"/>
<rect x="219.20" y="617.50" width="16.1" height="2.10" fill="#138a88"/>
<rect x="219.20" y="617.50" width="16.1" height="2.10" fill="#2fae66"/>
<rect x="237.13" y="409.20" width="16.1" height="210.40" fill="#e2040a"/>
<rect x="237.13" y="540.07" width="16.1" height="79.53" fill="#93465c"/>
<rect x="237.13" y="609.50" width="16.1" height="10.10" fill="#2a6fbc"/>
<rect x="237.13" y="613.71" width="16.1" height="5.89" fill="#138a88"/>
<rect x="237.13" y="613.71" width="16.1" height="5.89" fill="#2fae66"/>
<rect x="255.06" y="409.20" width="16.1" height="210.40" fill="#e2040a"/>
<rect x="255.06" y="414.46" width="16.1" height="205.14" fill="#93465c"/>
<rect x="255.06" y="421.19" width="16.1" height="198.41" fill="#2a6fbc"/>
<rect x="255.06" y="421.19" width="16.1" height="198.41" fill="#138a88"/>
<rect x="255.06" y="614.55" width="16.1" height="5.05" fill="#2fae66"/>
<rect x="272.99" y="409.20" width="16.1" height="210.40" fill="#e2040a"/>
<rect x="272.99" y="451.91" width="16.1" height="167.69" fill="#93465c"/>
<rect x="272.99" y="510.82" width="16.1" height="108.78" fill="#2a6fbc"/>
<rect x="272.99" y="613.71" width="16.1" height="5.89" fill="#138a88"/>
<rect x="272.99" y="613.71" width="16.1" height="5.89" fill="#2fae66"/>
<path d="M37.6 409 V622.3 H291" stroke="#111" stroke-width="1.3" fill="none"/>
<path d="M34.3 409.20 H37.6" stroke="#111" stroke-width="1"/>
<text x="31.6" y="411.50" font-size="6.4" fill="#333" text-anchor="end" stroke="#333" stroke-width="0.16" >100</text>
<path d="M34.3 461.80 H37.6" stroke="#111" stroke-width="1"/>
<text x="31.6" y="464.10" font-size="6.4" fill="#333" text-anchor="end" stroke="#333" stroke-width="0.16" >75</text>
<path d="M34.3 514.40 H37.6" stroke="#111" stroke-width="1"/>
<text x="31.6" y="516.70" font-size="6.4" fill="#333" text-anchor="end" stroke="#333" stroke-width="0.16" >50</text>
<path d="M34.3 567.00 H37.6" stroke="#111" stroke-width="1"/>
<text x="31.6" y="569.30" font-size="6.4" fill="#333" text-anchor="end" stroke="#333" stroke-width="0.16" >25</text>
<path d="M34.3 619.60 H37.6" stroke="#111" stroke-width="1"/>
<text x="31.6" y="621.90" font-size="6.4" fill="#333" text-anchor="end" stroke="#333" stroke-width="0.16" >0</text>
<path d="M47.95 622.5 V625" stroke="#111" stroke-width="1"/>
<text x="0" y="0" font-size="7.1" fill="#333" text-anchor="end" transform="translate(48.25 631.0) rotate(-45)">NK-DMSO</text>
<path d="M65.88 622.5 V625" stroke="#111" stroke-width="1"/>
<text x="0" y="0" font-size="7.1" fill="#333" text-anchor="end" transform="translate(66.18 631.0) rotate(-45)">Birinapant-NK</text>
<path d="M83.81 622.5 V625" stroke="#111" stroke-width="1"/>
<text x="0" y="0" font-size="7.1" fill="#333" text-anchor="end" transform="translate(84.11 631.0) rotate(-45)">Paclitaxel-NK</text>
<path d="M101.74 622.5 V625" stroke="#111" stroke-width="1"/>
<text x="0" y="0" font-size="7.1" fill="#333" text-anchor="end" transform="translate(102.04 631.0) rotate(-45)">Imatinib-NK</text>
<path d="M119.67 622.5 V625" stroke="#111" stroke-width="1"/>
<text x="0" y="0" font-size="7.1" fill="#333" text-anchor="end" transform="translate(119.97 631.0) rotate(-45)">Dasatinib-NK</text>
<path d="M137.60 622.5 V625" stroke="#111" stroke-width="1"/>
<text x="0" y="0" font-size="7.1" fill="#333" text-anchor="end" transform="translate(137.90 631.0) rotate(-45)">Dexamethasone-NK</text>
<path d="M155.53 622.5 V625" stroke="#111" stroke-width="1"/>
<text x="0" y="0" font-size="7.1" fill="#333" text-anchor="end" transform="translate(155.83 631.0) rotate(-45)">Sotrastaurin-NK</text>
<path d="M173.46 622.5 V625" stroke="#111" stroke-width="1"/>
<text x="0" y="0" font-size="7.1" fill="#333" text-anchor="end" transform="translate(173.76 631.0) rotate(-45)">NK-K562-DMSO</text>
<path d="M191.39 622.5 V625" stroke="#111" stroke-width="1"/>
<text x="0" y="0" font-size="7.1" fill="#333" text-anchor="end" transform="translate(191.69 631.0) rotate(-45)">Birinapant-NK-K562</text>
<path d="M209.32 622.5 V625" stroke="#111" stroke-width="1"/>
<text x="0" y="0" font-size="7.1" fill="#333" text-anchor="end" transform="translate(209.62 631.0) rotate(-45)">Paclitaxel-NK-K562</text>
<path d="M227.25 622.5 V625" stroke="#111" stroke-width="1"/>
<text x="0" y="0" font-size="7.1" fill="#333" text-anchor="end" transform="translate(227.55 631.0) rotate(-45)">Imatinib-NK-K562</text>
<path d="M245.18 622.5 V625" stroke="#111" stroke-width="1"/>
<text x="0" y="0" font-size="7.1" fill="#333" text-anchor="end" transform="translate(245.48 631.0) rotate(-45)">Dasatinib-NK-K562</text>
<path d="M263.11 622.5 V625" stroke="#111" stroke-width="1"/>
<text x="0" y="0" font-size="7.1" fill="#333" text-anchor="end" transform="translate(263.41 631.0) rotate(-45)">Dexamethasone-NK-K562</text>
<path d="M281.04 622.5 V625" stroke="#111" stroke-width="1"/>
<text x="0" y="0" font-size="7.1" fill="#333" text-anchor="end" transform="translate(281.34 631.0) rotate(-45)">Sotrastaurin-NK-K562</text>
<text x="165" y="700" font-size="7.3" fill="#333" text-anchor="middle" stroke="#333" stroke-width="0.16" >Drug condition</text>
<text x="0" y="0" font-size="7.4" fill="#333" stroke="#333" stroke-width="0.15" text-anchor="middle" transform="translate(14.2 514) rotate(-90) scale(0.9 1)">% Cells</text>
<text x="164.3" y="391.8" font-size="9.0" fill="#222" text-anchor="middle" stroke="#222" stroke-width="0.16" >NK cell % by cluster and drug condition</text>
<text x="102.2" y="405.2" font-size="6.55" fill="#222" text-anchor="middle" stroke="#222" stroke-width="0.16" >NK cells only</text>
<text x="226.9" y="405.2" font-size="6.6" fill="#222" text-anchor="middle" stroke="#222" stroke-width="0.16" >NK cells in co-culture</text>
<rect x="164.1" y="399.7" width="1.9" height="1.6" fill="#6a3444"/>
<rect x="164.1" y="403.09999999999997" width="1.9" height="1.6" fill="#6c6c92"/>
<rect x="164.1" y="406.5" width="1.9" height="1.6" fill="#2c5a44"/>
<text x="294.7" y="488.9" font-size="6.6" fill="#333" text-anchor="start" stroke="#333" stroke-width="0.16" >cluster</text>
<rect x="294.7" y="493.6" width="8.4" height="7.2" fill="#e2040a"/>
<text x="306.5" y="499.6" font-size="6.7" fill="#333" text-anchor="start" stroke="#333" stroke-width="0.16" >0. Resting</text>
<rect x="294.7" y="504.7" width="8.4" height="7.2" fill="#93465c"/>
<text x="306.5" y="510.7" font-size="6.7" fill="#333" text-anchor="start" stroke="#333" stroke-width="0.16" >1. Adaptive</text>
<rect x="294.7" y="515.8" width="8.4" height="7.2" fill="#2a6fbc"/>
<text x="306.5" y="521.8" font-size="6.7" fill="#333" text-anchor="start" stroke="#333" stroke-width="0.16" >2. Activated</text>
<rect x="294.7" y="526.9" width="8.4" height="7.2" fill="#138a88"/>
<text x="306.5" y="532.9" font-size="6.7" fill="#333" text-anchor="start" stroke="#333" stroke-width="0.16" >3. Dexamethasone-specific</text>
<rect x="294.7" y="538.0" width="8.4" height="7.2" fill="#2fae66"/>
<text x="306.5" y="544.0" font-size="6.7" fill="#333" text-anchor="start" stroke="#333" stroke-width="0.16" >4. Proliferative</text>
<rect x="0.5" y="0.5" width="519" height="708" fill="none" stroke="#4a4a4a" stroke-width="1"/>
</svg>
</body></html>
